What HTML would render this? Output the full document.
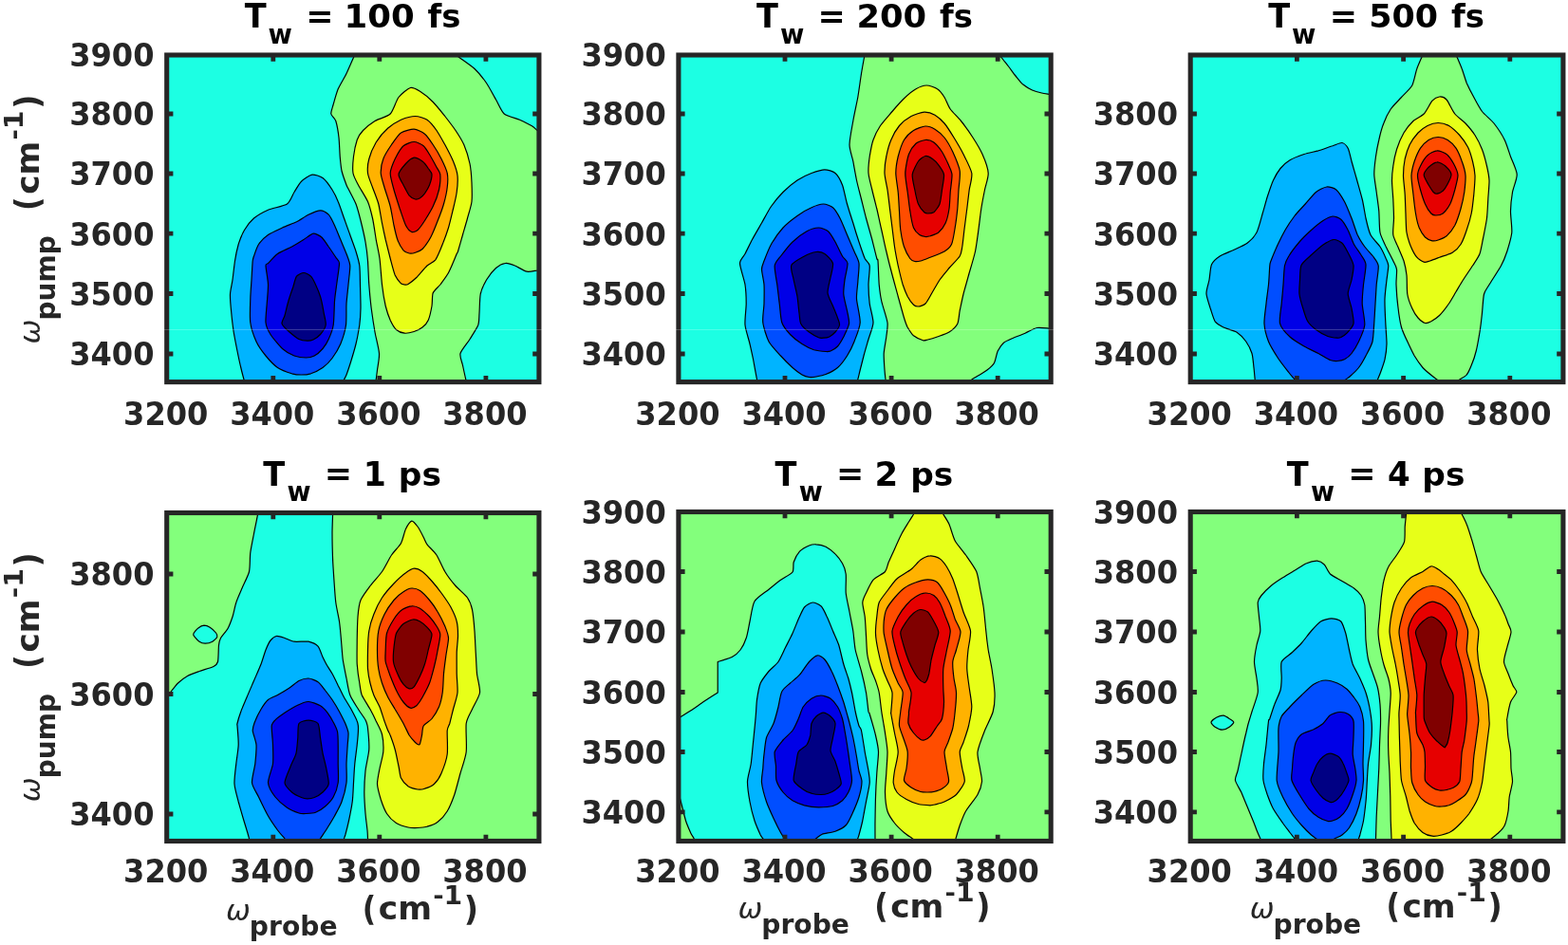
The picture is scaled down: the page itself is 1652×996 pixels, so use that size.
<!DOCTYPE html>
<html lang="en"><head><meta charset="utf-8"><title>2D IR spectra</title>
<style>html,body{margin:0;padding:0;background:#fff}body{width:1652px;height:996px;overflow:hidden}svg{display:block}text{font-family:"DejaVu Sans","Liberation Sans",sans-serif}</style></head><body>
<svg width="1652" height="996" viewBox="0 0 1652 996">
<g>
<rect width="1652" height="996" fill="#fff"/>
<g>
<clipPath id="c1"><rect x="175.7" y="58" width="392.2" height="344.6"/></clipPath>
<rect x="175.7" y="58" width="392.2" height="344.6" fill="#1cffe3"/>
<g clip-path="url(#c1)" stroke="#000" stroke-width="1.2" stroke-linejoin="round">
<path fill="#83ff7c" d="M395.5 406C395.6 405.2 396 401.9 396.2 400C396.5 398.1 397.1 393.3 397.5 390C397.9 386.7 399.8 377.3 399.5 372.5C399.2 367.7 396 355.7 395 350C394 344.3 392 331 391.2 325C390.5 319 389.2 306 388.8 300C388.3 294 387.9 280.4 387.5 275C387.1 269.6 385.9 260.1 385 255C384.1 249.9 381.2 237.3 380 232.5C378.8 227.7 376.5 218.9 375 215C373.5 211.1 368.7 202.4 367.5 200C366.3 197.6 365.9 197.4 365 195C364.1 192.6 360.8 183.6 360 180C359.2 176.4 358.6 169.2 358.2 165C357.9 160.8 357.5 149.5 357 145C356.5 140.5 354.7 130.5 353.8 127.5C352.8 124.5 349.1 122.1 348.8 120C348.4 117.9 350.4 113.2 351.2 110C352.1 106.8 354.6 97.7 356.2 93.8C357.9 89.8 363.1 81.5 365 77.5C366.9 73.5 371.3 63.2 372.5 60.5C373.7 57.8 374.6 55.7 374.9 55L372 30L484 30L478.9 56.9C479.5 57.4 481.2 58.6 483.8 60.5C486.3 62.4 496.6 69.3 500 72.5C503.4 75.7 509.8 83.6 512.5 87.5C515.2 91.4 520.2 101.1 522.5 105C524.8 108.9 528.2 117.5 531.2 120C534.2 122.5 544 124.8 547.5 126.2C551 127.8 557.8 131.2 560 132.5C562.2 133.8 564.9 136.5 566.2 137.5C567.6 138.5 570.4 140.8 570.9 141.2L600 140L600 430L396 430Z"/>
<path fill="#1cffe3" d="M572.2 284.3C571.5 284.4 568.3 284.8 566.2 285C564.2 285.2 557.9 286.9 555 286.2C552.1 285.6 545.2 281.1 542.5 280C539.8 278.9 534.9 277.2 532.5 277.5C530.1 277.8 524.9 280.4 522.5 282.5C520.1 284.6 514.5 291.7 512.5 295C510.6 298.3 507.1 305.8 506.2 310C505.4 314.2 505.3 326.1 505 330C504.7 333.9 504.9 339.2 503.8 342.5C502.6 345.8 497.2 353.9 495 357.5C492.8 361.1 485.9 369.2 485 372.5C484.1 375.8 486.8 381.7 487.5 385C488.2 388.3 490.2 397.5 490.8 400C491.3 402.5 491.9 405.2 492 405.9L490 430L600 430L600 285Z"/>
<path fill="#e7ff18" d="M432.5 92.5C429.8 93.2 422.6 99.2 420 102.5C417.4 105.8 414.2 117 411.2 120C408.2 123 398.4 125.4 395 127.5C391.6 129.6 384.8 135.1 382.5 137.5C380.2 139.9 377.4 144.2 376.2 147.5C375.1 150.8 373 160.8 372.5 165C372 169.2 371.4 178.9 372 182.5C372.6 186.1 375.6 191.4 377.5 195C379.4 198.6 385.7 208.3 387.5 212.5C389.3 216.7 391.4 225.2 392.5 230C393.6 234.8 395.4 247.4 396.2 252.5C397.1 257.6 399.2 266.8 400 272.5C400.8 278.2 401.8 294 402.5 300C403.2 306 405.2 318 406.2 322.5C407.3 327 409.9 334.5 411.2 337.5C412.6 340.5 415.7 345.9 417.5 347.5C419.3 349.1 424 351 426.2 351.2C428.5 351.5 434 350.2 436.2 349.5C438.5 348.8 443.2 346.4 445 345C446.8 343.6 450.1 340.2 451.2 337.5C452.4 334.8 454.4 325.9 455 322.5C455.6 319.1 455.2 311.4 456.2 308.8C457.3 306.1 461.8 302.6 463.8 300C465.7 297.4 470.4 291.4 472.5 287.5C474.6 283.6 480.1 270.2 481.2 267.5C482.4 264.8 481.8 267.4 482.5 265C483.2 262.6 486.3 251.7 487.5 247.5C488.7 243.3 491.4 234.2 492.5 230C493.6 225.8 496.5 217 497 212.5C497.5 208 497.2 197.3 497 192.5C496.8 187.7 496 177.3 495 172.5C494 167.7 490.6 156.7 488.8 152.5C486.9 148.3 482.4 141.1 480 137.5C477.6 133.9 471.6 126.1 468.8 122.5C465.9 118.9 459.4 110.7 456.2 107.5C453.1 104.3 445.4 98 442.5 96.2C439.6 94.5 435.2 91.8 432.5 92.5Z"/>
<path fill="#ffb200" d="M437.5 122.5C434.2 122.5 425.9 124.8 422.5 126.2C419.1 127.8 411.9 132.2 408.8 135C405.6 137.8 398.6 146.1 396.2 150C393.9 153.9 389.8 163.6 388.8 167.5C387.7 171.4 387.1 178.9 387.5 182.5C387.9 186.1 391.1 193.6 392.5 197.5C393.9 201.4 397.6 210.5 398.8 215C399.9 219.5 401.6 230.5 402.5 235C403.4 239.5 405.2 248 406.2 252.5C407.3 257 410.1 268 411.2 272.5C412.4 277 414.9 286.9 416.2 290C417.6 293.1 421.3 297.6 422.5 298.8C423.7 299.9 425.4 299.9 426.2 300C427.1 300.1 428.5 300.4 430 299.5C431.5 298.6 436.4 294.8 438.8 292.5C441.1 290.2 447.6 282.2 450 280C452.4 277.8 456.8 276.4 458.8 273.8C460.7 271.1 464.6 261.6 466.2 257.5C467.9 253.4 471.1 244.5 472.5 240C473.9 235.5 476.4 224.5 477.5 220C478.6 215.5 480.7 206.7 481.2 202.5C481.8 198.3 482.4 188.9 482 185C481.6 181.1 479.1 173.9 477.5 170C475.9 166.1 470.9 156.4 468.8 152.5C466.6 148.6 462.2 140.7 460 137.5C457.8 134.3 452.7 128.1 450 126.2C447.3 124.5 440.8 122.5 437.5 122.5Z"/>
<path fill="#ff4d00" d="M436.2 136.2C433.2 136.1 425.4 138.1 422.5 140C419.6 141.9 414.8 149.2 412.5 152.5C410.2 155.8 405.1 163.9 403.8 167.5C402.4 171.1 401.1 178.9 401.2 182.5C401.4 186.1 403.8 193.3 405 197.5C406.2 201.7 410.1 212.7 411.2 217.5C412.4 222.3 414.1 233.3 415 237.5C415.9 241.7 417.6 249.3 418.8 252.5C419.9 255.7 423.5 262 425 263.8C426.5 265.5 429.8 266.7 431.2 267C432.8 267.3 435.9 266.8 437.5 266.2C439.1 265.7 443.1 264.4 445 262.5C446.9 260.6 451.8 253.6 453.8 250C455.7 246.4 459.6 236.7 461.2 232.5C462.9 228.3 466.3 219.2 467.5 215C468.7 210.8 470.8 201.4 471.2 197.5C471.7 193.6 472 186.1 471.2 182.5C470.5 178.9 466.8 171.1 465 167.5C463.2 163.9 458.4 155.7 456.2 152.5C454.1 149.3 449.9 143.2 447.5 141.2C445.1 139.3 439.2 136.4 436.2 136.2Z"/>
<path fill="#e60000" d="M436.2 149.5C433.7 149.5 427.4 151.6 425 153.8C422.6 155.9 417.9 164.1 416.2 167.5C414.6 170.9 411.4 178.6 411.2 182.5C411.1 186.4 413.8 195.5 415 200C416.2 204.5 419.8 215.5 421.2 220C422.8 224.5 426 234.6 427.5 237.5C429 240.4 432.2 243.9 433.8 244.5C435.2 245.1 438.4 243.9 440 242.5C441.6 241.1 445.6 235.5 447.5 232.5C449.4 229.5 454.4 221.4 456.2 217.5C458.1 213.6 461.6 204.1 462.5 200C463.4 195.9 464.1 186.6 463.8 183.8C463.4 180.9 461.2 178.5 460 176.2C458.8 174 455.4 167.7 453.8 165C452.1 162.3 448.4 155.6 446.2 153.8C444.1 151.9 438.8 149.5 436.2 149.5Z"/>
<path fill="#800000" d="M436.2 166.2C434.1 166.6 429.4 170.4 427.5 172.5C425.6 174.6 420.3 181.1 420 183.8C419.7 186.4 423.6 192.3 425 195C426.4 197.7 429.8 204.4 431.2 206.2C432.8 208.1 436.1 209.7 437.5 210C438.9 210.3 441.3 209.5 442.5 208.8C443.7 208 446.3 205.4 447.5 203.8C448.7 202.1 451.6 197.4 452.5 195C453.4 192.6 455.1 185.8 455 183.8C454.9 181.7 452.4 179.2 451.2 177.5C450.1 175.8 446.8 171.3 445 170C443.2 168.7 438.4 165.9 436.2 166.2Z"/>
<path fill="#00b4ff" d="M359.8 405.4C360.1 404.7 361.9 401.2 362.5 400C363.1 398.8 364.1 397.4 365 395C365.9 392.6 368.8 383.9 370 380C371.2 376.1 373.9 367 375 362.5C376.1 358 378.1 347 378.8 342.5C379.4 338 379.9 330.1 380 325C380.1 319.9 379.6 305.4 379.5 300C379.4 294.6 379.3 284.2 378.8 280C378.2 275.8 376.2 268.9 375 265C373.8 261.1 370.2 251.7 368.8 247.5C367.2 243.3 364 234.2 362.5 230C361 225.8 357.8 216.1 356.2 212.5C354.8 208.9 351.9 203 350 200C348.1 197 342.6 189.4 340 187.5C337.4 185.6 331.4 183.8 328.8 184.2C326.1 184.7 319.8 189.1 317.5 191.2C315.2 193.4 311.8 199.7 310 202.5C308.2 205.3 305.8 212.8 302.5 215C299.2 217.2 286.7 219.4 282.5 221.2C278.3 223.1 270.5 227.4 267.5 230C264.5 232.6 259.4 239.2 257.5 242.5C255.6 245.8 252.4 253.6 251.2 257.5C250.1 261.4 248.2 270.5 247.5 275C246.8 279.5 245.6 290.8 245 295C244.4 299.2 242.7 305.8 242.5 310C242.3 314.2 243.3 325.2 243.8 330C244.2 334.8 245.5 345.2 246.2 350C247 354.8 249.1 365.5 250 370C250.9 374.5 252.9 383.9 253.8 387.5C254.6 391.1 256.4 397.8 257 400C257.6 402.2 258.3 405.1 258.5 405.8L257 430L362 430Z"/>
<path fill="#004eff" d="M337.5 221.8C334.9 221.8 328 224.8 325 226.2C322 227.7 315.8 232.1 312.5 233.8C309.2 235.4 301.1 238.3 297.5 240C293.9 241.7 285.5 245.4 282.5 247.5C279.5 249.6 274.3 254.8 272.5 257.5C270.7 260.2 268.2 267.9 267.5 270C266.8 272.1 266.6 272 266.2 275C265.9 278 265.3 290.2 265 295C264.7 299.8 263.9 309.6 263.8 315C263.6 320.4 263 334.6 263.8 340C264.5 345.4 268.1 355.8 270 360C271.9 364.2 277.3 371.7 280 375C282.7 378.3 289.2 385.2 292.5 387.5C295.8 389.8 304.5 392.9 307.5 393.8C310.5 394.6 315.1 395 317.5 395C319.9 395 324.8 394.6 327.5 393.8C330.2 392.9 337.3 389.4 340 387.5C342.7 385.6 347.8 380.5 350 377.5C352.2 374.5 357 366.7 358.8 362.5C360.5 358.3 363.8 347.6 364.5 342.5C365.2 337.4 364.7 325.1 365 320C365.3 314.9 366.6 304.8 367 300C367.4 295.2 369 283.9 368.8 280C368.5 276.1 366.2 270.8 365 267.5C363.8 264.2 360.2 256.1 358.8 252.5C357.2 248.9 354 240.7 352.5 237.5C351 234.3 348.1 228.1 346.2 226.2C344.4 224.4 340.1 221.8 337.5 221.8Z"/>
<path fill="#0000e7" d="M330 246.2C327.8 246.6 322.7 250.8 320 252.5C317.3 254.2 310.8 258.2 307.5 260C304.2 261.8 295.5 265.4 292.5 267.5C289.5 269.6 284 276 282.5 277.5C281 279 280 277.3 280 280C280 282.7 282.4 295.2 282.5 300C282.6 304.8 281.6 315.2 281.2 320C280.9 324.8 279.6 336.1 280 340C280.4 343.9 282.9 349.2 285 352.5C287.1 355.8 294.5 364.8 297.5 367.5C300.5 370.2 307 373.9 310 375C313 376.1 319.9 377 322.5 377C325.1 377 329.1 376.1 331.2 375C333.4 373.9 338.2 369.6 340 367.5C341.8 365.4 344.9 360.5 346.2 357.5C347.6 354.5 350.5 347.3 351.2 342.5C352 337.7 352.1 322.9 352.5 317.5C352.9 312.1 354.4 302.3 355 297.5C355.6 292.7 357.6 280.6 357.5 277.5C357.4 274.4 355.1 273.4 353.8 271.2C352.4 269.1 348.1 262.6 346.2 260C344.4 257.4 340.7 251.7 338.8 250C336.8 248.3 332.2 245.9 330 246.2Z"/>
<path fill="#000084" d="M320 287.5C318.2 287.5 313.9 289.4 312.5 291.2C311.1 293.1 309.8 299.4 308.8 302.5C307.7 305.6 304.8 313.9 303.8 317.5C302.7 321.1 300.8 329.6 300 332.5C299.2 335.4 296.4 339.1 297 341.2C297.6 343.4 302.8 348.1 305 350C307.2 351.9 312.8 356.4 315 357.5C317.2 358.6 321.9 359.2 323.8 359.2C325.6 359.3 328.4 358.8 330 358C331.6 357.2 335.9 354.4 337.5 352.5C339.1 350.6 342.8 345.2 343.2 342.5C343.7 339.8 341.9 333.6 341.2 330C340.6 326.4 338.6 316.1 337.5 312.5C336.4 308.9 333.7 302.6 332.5 300C331.3 297.4 329 292.8 327.5 291.2C326 289.8 321.8 287.5 320 287.5Z"/>
</g>
<path d="M287.8 58v6.7M287.8 402.6v-6.7M399.8 58v6.7M399.8 402.6v-6.7M511.9 58v6.7M511.9 402.6v-6.7M175.7 120h6.7M567.9 120h-6.7M175.7 183h6.7M567.9 183h-6.7M175.7 246.2h6.7M567.9 246.2h-6.7M175.7 309.5h6.7M567.9 309.5h-6.7M175.7 373h6.7M567.9 373h-6.7" stroke="#262626" stroke-width="4.8" fill="none"/>
<rect x="175.7" y="58" width="392.2" height="344.6" fill="none" stroke="#262626" stroke-width="5.1"/>
</g>
<text transform="translate(130.095 447.536) scale(1 1.026)" font-size="32.076" font-weight="bold" fill="#262626">3200</text>
<text transform="translate(242.155 447.536) scale(1 1.026)" font-size="32.076" font-weight="bold" fill="#262626">3400</text>
<text transform="translate(354.205 447.536) scale(1 1.026)" font-size="32.076" font-weight="bold" fill="#262626">3600</text>
<text transform="translate(466.265 447.536) scale(1 1.026)" font-size="32.076" font-weight="bold" fill="#262626">3800</text>
<text transform="translate(73.245 69.986) scale(1 1.026)" font-size="32.076" font-weight="bold" fill="#262626">3900</text>
<text transform="translate(73.245 132.486) scale(1 1.026)" font-size="32.076" font-weight="bold" fill="#262626">3800</text>
<text transform="translate(73.245 195.486) scale(1 1.026)" font-size="32.076" font-weight="bold" fill="#262626">3700</text>
<text transform="translate(73.245 258.736) scale(1 1.026)" font-size="32.076" font-weight="bold" fill="#262626">3600</text>
<text transform="translate(73.245 321.986) scale(1 1.026)" font-size="32.076" font-weight="bold" fill="#262626">3500</text>
<text transform="translate(73.245 385.486) scale(1 1.026)" font-size="32.076" font-weight="bold" fill="#262626">3400</text>
<text transform="translate(257.75 29.05) scale(1 1.037)" font-size="33.6" font-weight="bold" fill="#000">T</text>
<text transform="translate(282.592 45.75) scale(1 1.019)" font-size="27.462" font-weight="bold" fill="#000">w</text>
<text transform="translate(322.272 28.795) scale(1 0.965)" font-size="34.966" font-weight="bold" fill="#000">=</text>
<text transform="translate(362.462 28.819) scale(1 0.955)" font-size="35.543" font-weight="bold" fill="#000">100</text>
<text transform="translate(450.62 28.812) scale(1 1.015)" font-size="33.913" font-weight="bold" fill="#000">fs</text>
<g transform="translate(41 360.8) rotate(-90)"><text transform="translate(-1.626 0.886) scale(1 0.961)" font-size="30.907" font-weight="normal" font-style="italic" fill="#262626">ω</text>
<text transform="translate(23.259 16.73) scale(1 0.981)" font-size="28.04" font-weight="bold" fill="#262626">pump</text>
<text transform="translate(138.875 0.4) scale(1 1.111)" font-size="31.68" font-weight="bold" fill="#262626">(</text>
<text transform="translate(155.976 -0.388) scale(1 1.001)" font-size="34.373" font-weight="bold" fill="#262626">cm</text>
<text transform="translate(213.364 -17.98) scale(1 0.91)" font-size="27.429" font-weight="bold" fill="#262626">-</text>
<text transform="translate(224.662 -16.65) scale(1 0.969)" font-size="28.235" font-weight="bold" fill="#262626">1</text>
<text transform="translate(245.945 0.4) scale(1 1.056)" font-size="33.347" font-weight="bold" fill="#262626">)</text></g>
<g>
<clipPath id="c2"><rect x="714.9" y="58" width="392.3" height="344.6"/></clipPath>
<rect x="714.9" y="58" width="392.3" height="344.6" fill="#1cffe3"/>
<g clip-path="url(#c2)" stroke="#000" stroke-width="1.2" stroke-linejoin="round">
<path fill="#83ff7c" d="M933.6 406C933.5 405.3 933.2 401.9 933 400C932.8 398.1 932.2 393.3 932 390C931.8 386.7 931 376.7 931.2 372.5C931.5 368.3 933.3 358.9 933.8 355C934.2 351.1 935.6 344.5 935 340C934.4 335.5 929.8 322.3 928.8 317.5C927.7 312.7 926.7 305.1 926.2 300C925.8 294.9 925.3 278.3 925 275C924.7 271.7 924.5 275.2 923.8 272.5C923 269.8 920.1 257.6 918.8 252.5C917.4 247.4 913.9 235.1 912.5 230C911.1 224.9 908.7 214.8 907.5 210C906.3 205.2 903.5 194.8 902.5 190C901.5 185.2 899.6 174.5 898.8 170C897.9 165.5 895 157.6 895 152.5C895 147.4 897.7 133.5 898.8 127.5C899.8 121.5 902.7 108.5 903.8 102.5C904.8 96.5 906.7 82.5 907.5 77.5C908.3 72.5 910 63.2 910.5 60.5C911 57.8 911.4 55.3 911.5 54.6L910 30L1140 30L1140 430L933 430Z"/>
<path fill="#1cffe3" d="M1051.3 55.8C1051.7 56.4 1053.7 58.8 1055 60.5C1056.3 62.2 1060.7 67.7 1062.5 70C1064.3 72.3 1068.2 77.8 1070 80C1071.8 82.2 1075.4 87 1077.5 88.8C1079.6 90.5 1085.1 93.9 1087.5 95C1089.9 96.1 1095.2 97.5 1097.5 98C1099.8 98.5 1104.5 99.2 1106.2 99.5C1108 99.8 1111.5 100.4 1112.2 100.5L1140 100L1140 30L1055 30Z"/>
<path fill="#1cffe3" d="M1112.2 346.6C1111.5 346.5 1108.6 346.4 1106.2 346.2C1103.9 346.1 1095.7 344.9 1092.5 345.5C1089.3 346.1 1083 350 1080 351.2C1077 352.5 1070.2 355.1 1067.5 356.2C1064.8 357.4 1059.5 359.6 1057.5 361.2C1055.5 362.9 1052.5 367.4 1051.2 370C1050 372.6 1048.8 380.1 1047.5 382.5C1046.2 384.9 1042.1 388.4 1040 390C1037.9 391.6 1032 395.1 1030 396.2C1028 397.4 1025.1 399.2 1023.8 400C1022.4 400.8 1019.2 402.7 1018.6 403.1L1024 430L1140 430L1140 346Z"/>
<path fill="#e7ff18" d="M976.2 90C973.5 90 967.9 92.1 965 93.8C962.1 95.4 955.5 100.9 952.5 103.8C949.5 106.6 943 114 940 117.5C937 121 929.9 128.9 927.5 132.5C925.1 136.1 921.4 143.6 920 147.5C918.6 151.4 916.9 160.8 916.2 165C915.6 169.2 914.7 178.3 915 182.5C915.3 186.7 917.7 195.5 918.8 200C919.8 204.5 922.5 214.9 923.8 220C925 225.1 927.5 237.1 928.8 242.5C930 247.9 932.5 259.9 933.8 265C935 270.1 937.2 279.3 938.8 285C940.2 290.7 944.6 306.5 946.2 312.5C947.9 318.5 951.3 331.1 952.5 335C953.7 338.9 955 342.8 956.2 345C957.5 347.2 960.5 352.1 962.5 353.8C964.5 355.4 970.7 358.2 972.5 358.8C974.3 359.3 975.7 358.4 977.5 358C979.3 357.6 984.8 356 987.5 355C990.2 354 997.5 351.6 1000 350C1002.5 348.4 1007.4 343.9 1008.8 341.2C1010.1 338.6 1010.5 331.2 1011.2 327.5C1012 323.8 1013.8 314.8 1015 310C1016.2 305.2 1019.8 292.9 1021.2 287.5C1022.8 282.1 1026.3 270.7 1027.5 265C1028.7 259.3 1030.5 245.4 1031.2 240C1032 234.6 1033 224.8 1033.8 220C1034.5 215.2 1036.6 204.5 1037.5 200C1038.4 195.5 1041.5 187 1041.2 182.5C1041 178 1037 167 1035 162.5C1033 158 1027.7 149.2 1025 145C1022.3 140.8 1015.4 131.1 1012.5 127.5C1009.6 123.9 1003.4 118 1001.2 115C999.1 112 996.6 105 995 102.5C993.4 100 989.8 95.2 987.5 93.8C985.2 92.2 979 90 976.2 90Z"/>
<path fill="#ffb200" d="M973.8 118.2C970.8 118.4 963.1 120.8 960 122.5C956.9 124.2 950 129.5 947.5 132.5C945 135.5 940.4 143.6 938.8 147.5C937.1 151.4 934.6 160.8 933.8 165C932.9 169.2 931.9 178.3 932 182.5C932.1 186.7 934.3 195.5 935 200C935.7 204.5 936.9 215.2 937.5 220C938.1 224.8 939.4 235.2 940 240C940.6 244.8 941.8 255.2 942.5 260C943.2 264.8 945.2 275.2 946.2 280C947.3 284.8 950 296.1 951.2 300C952.5 303.9 954.9 309.9 956.2 312.5C957.6 315.1 961.1 320 962.5 321.2C963.9 322.5 966 323.1 967.5 323C969 322.9 973.4 321.6 975 320C976.6 318.4 979.5 313 981.2 310C983 307 987.8 298.3 990 295C992.2 291.7 997.5 285.5 1000 282.5C1002.5 279.5 1009.6 272.7 1011.2 270C1012.9 267.3 1013.1 263.6 1013.8 260C1014.4 256.4 1015.6 244.8 1016.2 240C1016.9 235.2 1018.1 224.8 1018.8 220C1019.4 215.2 1020.6 204.5 1021.2 200C1021.9 195.5 1024.5 187 1023.8 182.5C1023 178 1017.2 167 1015 162.5C1012.8 158 1007.4 148.9 1005 145C1002.6 141.1 997.4 132.8 995 130C992.6 127.2 987.5 122.7 985 121.2C982.5 119.8 976.8 118.1 973.8 118.2Z"/>
<path fill="#ff4d00" d="M975 133C972.3 133.2 965.2 135.8 962.5 137.5C959.8 139.2 954.5 144.2 952.5 147.5C950.5 150.8 947.3 160.8 946.2 165C945.2 169.2 943.8 178 943.8 182.5C943.8 187 945.8 197.7 946.2 202.5C946.7 207.3 947.2 217.7 947.5 222.5C947.8 227.3 948.1 238 948.8 242.5C949.4 247 951.3 256.4 952.5 260C953.7 263.6 957.4 270.6 958.8 272.5C960.1 274.4 962.4 275.2 963.8 275.5C965.1 275.8 968 275.5 970 275C972 274.5 977 272.4 980 271.2C983 270.1 992.3 266.6 995 265C997.7 263.4 1001.1 260.5 1002.5 257.5C1003.9 254.5 1005.5 244.5 1006.2 240C1007 235.5 1008.3 224.8 1008.8 220C1009.2 215.2 1009.7 204.8 1010 200C1010.3 195.2 1012 184.8 1011.2 180C1010.5 175.2 1005.7 164.2 1003.8 160C1001.8 155.8 997.2 147.8 995 145C992.8 142.2 987.4 137.7 985 136.2C982.6 134.8 977.7 132.8 975 133Z"/>
<path fill="#e60000" d="M975 147.5C972.8 147.7 967.1 149.4 965 151.2C962.9 153.1 958.9 158.8 957.5 162.5C956.1 166.2 953.9 177.7 953.8 182.5C953.6 187.3 955.6 197.7 956.2 202.5C956.9 207.3 958 218 958.8 222.5C959.5 227 961.3 237 962.5 240C963.7 243 967.2 246.4 968.8 247.5C970.2 248.6 973.6 249.3 975 249.5C976.4 249.7 978.4 249.3 980 248.8C981.6 248.2 986.8 246.7 988.8 245C990.7 243.3 994.9 238 996.2 235C997.6 232 999.4 223.9 1000 220C1000.6 216.1 1000.9 206.8 1001.2 202.5C1001.6 198.2 1003.3 187.3 1003 183.8C1002.7 180.2 1000 175.3 998.8 172.5C997.5 169.7 994.3 162.7 992.5 160C990.7 157.3 985.9 151.5 983.8 150C981.6 148.5 977.2 147.3 975 147.5Z"/>
<path fill="#800000" d="M975 164.5C973.2 164.8 969.1 167.7 967.5 170C965.9 172.3 961.7 180.2 961.2 183.8C960.8 187.3 963 196.2 963.8 200C964.5 203.8 966.3 212.2 967.5 215C968.7 217.8 972.5 222.6 973.8 223.8C975 224.9 976.3 225 977.5 225C978.7 225 982.2 224.9 983.8 223.8C985.2 222.6 989 217.8 990 215C991 212.2 992 203.8 992.5 200C993 196.2 995 186.9 994.5 183.8C994 180.6 990.2 175.7 988.8 173.8C987.3 171.8 984.1 168.6 982.5 167.5C980.9 166.4 976.8 164.2 975 164.5Z"/>
<path fill="#00b4ff" d="M902.3 405.8C902.5 405.1 903.3 401.9 903.8 400C904.2 398.1 905.5 393 906.2 390C907 387 909 378.9 910 375C911 371.1 913.8 361.7 915 357.5C916.2 353.3 919.9 344.5 920 340C920.1 335.5 916.9 324.8 916.2 320C915.6 315.2 915 304.8 915 300C915 295.2 916.7 283.3 916.2 280C915.8 276.7 912.6 275.5 911.2 272.5C909.9 269.5 906.5 259.5 905 255C903.5 250.5 900.2 239.8 898.8 235C897.2 230.2 893.9 219.8 892.5 215C891.1 210.2 889 198.9 887.5 195C886 191.1 882.2 184.4 880 182.5C877.8 180.6 871.8 178.8 868.8 178.8C865.8 178.8 858.5 181.2 855 182.5C851.5 183.8 843.6 187.6 840 190C836.4 192.4 828.3 199.2 825 202.5C821.7 205.8 815.2 213.6 812.5 217.5C809.8 221.4 804.9 230.8 802.5 235C800.1 239.2 794.6 248.6 792.5 252.5C790.4 256.4 786.6 264.5 785 267.5C783.4 270.5 779.5 273.6 779.5 277.5C779.5 281.4 784.2 294.9 785 300C785.8 305.1 786.2 314.9 786.2 320C786.2 325.1 784.5 337.4 785 342.5C785.5 347.6 789 358 790 362.5C791 367 792.9 375.5 793.8 380C794.6 384.5 796.9 396.9 797.5 400C798.1 403.1 798.5 405.2 798.6 405.9L797 430L904 430Z"/>
<path fill="#004eff" d="M867.5 215C864.8 215 858.3 217.2 855 218.8C851.7 220.2 843.6 224.9 840 227.5C836.4 230.1 828.3 236.4 825 240C821.7 243.6 814.9 253.3 812.5 257.5C810.1 261.7 806.2 271.9 805 275C803.8 278.1 802.5 280.8 802.5 283.8C802.5 286.8 804.7 295.6 805 300C805.3 304.4 805.1 315.2 805 320C804.9 324.8 803.1 335.2 803.8 340C804.4 344.8 807.8 355.8 810 360C812.2 364.2 819.5 371.7 822.5 375C825.5 378.3 832.3 385.1 835 387.5C837.7 389.9 842.9 393.8 845 395C847.1 396.2 850.7 397.3 852.5 397.5C854.3 397.7 857.9 397.4 860 397C862.1 396.6 867.3 395.6 870 394.5C872.7 393.4 879.8 389.8 882.5 387.5C885.2 385.2 890.4 378.3 892.5 375C894.6 371.7 898.4 364.2 900 360C901.6 355.8 906 345.4 906.2 340C906.5 334.6 902.8 320.1 902.5 315C902.2 309.9 903.5 302 903.8 297.5C904 293 905.5 281.4 905 277.5C904.5 273.6 901.5 268.6 900 265C898.5 261.4 894.3 251.7 892.5 247.5C890.7 243.3 886.8 233.4 885 230C883.2 226.6 879.6 220.6 877.5 218.8C875.4 216.9 870.2 215 867.5 215Z"/>
<path fill="#0000e7" d="M862.5 240C859.8 240 853.3 241.9 850 243.8C846.7 245.6 838.3 251.8 835 255C831.7 258.1 824.8 267 822.5 270C820.2 273 816.7 276.4 816.2 280C815.8 283.6 818.1 295.2 818.8 300C819.4 304.8 820.6 315.2 821.2 320C821.9 324.8 822.4 336.1 823.8 340C825.1 343.9 830 349.8 832.5 352.5C835 355.2 842 360.6 845 362.5C848 364.4 854.5 367.8 857.5 368.8C860.5 369.7 867.9 370.4 870 370.5C872.1 370.6 873.5 370.7 875 370C876.5 369.3 880.9 366.8 882.5 365C884.1 363.2 887.3 357.9 888.8 355C890.2 352.1 894 344.6 894.5 341.2C895 337.9 893.2 331.2 892.5 327.5C891.8 323.8 889 313.9 888.8 310C888.5 306.1 889.5 298.9 890 295C890.5 291.1 893.3 280.5 893 277.5C892.7 274.5 889.1 272.7 887.5 270C885.9 267.3 881.8 258.1 880 255C878.2 251.8 874.6 245.6 872.5 243.8C870.4 241.9 865.2 240 862.5 240Z"/>
<path fill="#000084" d="M860 265.5C857.5 265.8 850.6 268.3 847.5 270C844.4 271.7 835.1 276.5 833.8 279.5C832.4 282.5 835.5 291 836.2 295C837 299 839.3 308.3 840 312.5C840.7 316.7 841.5 326.6 842 330C842.5 333.4 842.5 338.9 843.8 341.2C845 343.6 850.2 348.3 852.5 350C854.8 351.7 860.7 355 862.5 355.8C864.3 356.5 866.1 356.3 867.5 356.2C868.9 356.2 872.2 355.8 873.8 355C875.2 354.2 878.7 351.5 880 350C881.3 348.5 884.2 344.3 884.5 342.5C884.8 340.7 883.3 337.4 882.5 335C881.7 332.6 878.8 325.6 877.5 322.5C876.2 319.4 872.3 312.4 872 308.8C871.7 305.1 874.3 296.2 875 292.5C875.7 288.8 878.2 280.5 877.5 277.5C876.8 274.5 870.9 268.9 868.8 267.5C866.6 266.1 862.5 265.2 860 265.5Z"/>
</g>
<path d="M827 58v6.7M827 402.6v-6.7M939.1 58v6.7M939.1 402.6v-6.7M1051.2 58v6.7M1051.2 402.6v-6.7M714.9 120h6.7M1107.2 120h-6.7M714.9 183h6.7M1107.2 183h-6.7M714.9 246.2h6.7M1107.2 246.2h-6.7M714.9 309.5h6.7M1107.2 309.5h-6.7M714.9 373h6.7M1107.2 373h-6.7" stroke="#262626" stroke-width="4.8" fill="none"/>
<rect x="714.9" y="58" width="392.3" height="344.6" fill="none" stroke="#262626" stroke-width="5.1"/>
</g>
<text transform="translate(669.295 447.536) scale(1 1.026)" font-size="32.076" font-weight="bold" fill="#262626">3200</text>
<text transform="translate(781.385 447.536) scale(1 1.026)" font-size="32.076" font-weight="bold" fill="#262626">3400</text>
<text transform="translate(893.465 447.536) scale(1 1.026)" font-size="32.076" font-weight="bold" fill="#262626">3600</text>
<text transform="translate(1005.555 447.536) scale(1 1.026)" font-size="32.076" font-weight="bold" fill="#262626">3800</text>
<text transform="translate(612.445 69.986) scale(1 1.026)" font-size="32.076" font-weight="bold" fill="#262626">3900</text>
<text transform="translate(612.445 132.486) scale(1 1.026)" font-size="32.076" font-weight="bold" fill="#262626">3800</text>
<text transform="translate(612.445 195.486) scale(1 1.026)" font-size="32.076" font-weight="bold" fill="#262626">3700</text>
<text transform="translate(612.445 258.736) scale(1 1.026)" font-size="32.076" font-weight="bold" fill="#262626">3600</text>
<text transform="translate(612.445 321.986) scale(1 1.026)" font-size="32.076" font-weight="bold" fill="#262626">3500</text>
<text transform="translate(612.445 385.486) scale(1 1.026)" font-size="32.076" font-weight="bold" fill="#262626">3400</text>
<text transform="translate(797.05 29.05) scale(1 1.037)" font-size="33.6" font-weight="bold" fill="#000">T</text>
<text transform="translate(821.892 45.75) scale(1 1.019)" font-size="27.462" font-weight="bold" fill="#000">w</text>
<text transform="translate(861.572 28.795) scale(1 0.965)" font-size="34.966" font-weight="bold" fill="#000">=</text>
<text transform="translate(902.389 28.819) scale(1 0.961)" font-size="35.335" font-weight="bold" fill="#000">200</text>
<text transform="translate(989.92 28.812) scale(1 1.015)" font-size="33.913" font-weight="bold" fill="#000">fs</text>
<g>
<clipPath id="c3"><rect x="1254.2" y="58" width="392.7" height="344.6"/></clipPath>
<rect x="1254.2" y="58" width="392.7" height="344.6" fill="#1cffe3"/>
<g clip-path="url(#c3)" stroke="#000" stroke-width="1.2" stroke-linejoin="round">
<path fill="#83ff7c" d="M1518.8 403.6C1518.2 403.2 1515.2 400.9 1514 400C1512.8 399.1 1510.8 397.8 1509 396.2C1507.2 394.8 1501.2 390.1 1499 387.5C1496.8 384.9 1492 378 1490.2 375C1488.5 372 1485.7 366.1 1484 362.5C1482.3 358.9 1477.8 349.8 1476.5 345C1475.2 340.2 1473.4 327.9 1472.8 322.5C1472.1 317.1 1471.2 304.6 1471 300C1470.8 295.4 1471.9 286.8 1471.5 283.8C1471.1 280.8 1469.1 277.9 1467.8 275C1466.4 272.1 1461.9 263.6 1460.2 260C1458.6 256.4 1454.9 249.5 1454 245C1453.1 240.5 1453.2 227.6 1452.8 222.5C1452.3 217.4 1450.8 207.2 1450.2 202.5C1449.7 197.8 1447.8 188.2 1447.8 183.8C1447.7 179.2 1448.9 169.3 1449.5 165C1450.1 160.7 1451.8 151.7 1452.8 147.5C1453.7 143.3 1456.2 133.9 1457.8 130C1459.2 126.1 1463 118.3 1465.2 115C1467.5 111.7 1473.8 105.5 1476.5 102.5C1479.2 99.5 1485.8 93.6 1487.8 90C1489.7 86.4 1491.5 76 1492.8 72.5C1494 69 1496.9 62.6 1497.8 60.5C1498.6 58.4 1499.8 55.6 1500.1 55L1498 30L1535 30L1532.9 55C1533.2 55.6 1534.4 58.4 1535.2 60.5C1536.1 62.6 1539 69.3 1540.2 72.5C1541.5 75.7 1543.8 83.9 1545.2 87.5C1546.8 91.1 1550.8 98.9 1552.8 102.5C1554.7 106.1 1559 114.2 1561.5 117.5C1564 120.8 1571.2 126.4 1574 130C1576.8 133.6 1583.2 143.3 1585.2 147.5C1587.3 151.7 1589.9 160.7 1591.5 165C1593.1 169.3 1598 179.2 1598.2 183.8C1598.5 188.2 1594.3 197.8 1593.5 202.5C1592.7 207.2 1591.6 217.4 1591.5 222.5C1591.4 227.6 1593.2 239.9 1592.8 245C1592.3 250.1 1589.1 260.8 1587.8 265C1586.4 269.2 1583.8 275.8 1581.5 280C1579.2 284.2 1571.2 296.4 1569 300C1566.8 303.6 1564.4 306.4 1563.5 310C1562.6 313.6 1562 325.2 1561.5 330C1561 334.8 1559.8 345.2 1559 350C1558.2 354.8 1556.3 365.8 1555.2 370C1554.2 374.2 1551.5 382 1550.2 385C1549 388 1546.8 393.2 1545.2 395C1543.8 396.8 1539.2 399 1537.8 400C1536.3 401 1533.4 402.9 1532.8 403.3L1538 430L1514 430Z"/>
<path fill="#e7ff18" d="M1516.5 102C1514.7 102.2 1511 104.1 1509 106.2C1507 108.4 1502.7 117.5 1500.2 120C1497.8 122.5 1491.5 125.1 1489 127.5C1486.5 129.9 1481.1 136.4 1479 140C1476.9 143.6 1472.8 153.3 1471.5 157.5C1470.2 161.7 1468.3 171.1 1467.8 175C1467.2 178.9 1466.5 185.8 1466.5 190C1466.5 194.2 1467.5 205.2 1467.8 210C1468 214.8 1468.5 225.5 1468.5 230C1468.5 234.5 1467.2 243.9 1467.8 247.5C1468.3 251.1 1471.4 256.7 1472.8 260C1474.1 263.3 1477.9 271.4 1479 275C1480.1 278.6 1481.5 285.8 1482 290C1482.5 294.2 1482.1 305.8 1482.8 310C1483.4 314.2 1486.4 322 1487.8 325C1489.1 328 1492.3 333.1 1494 335C1495.7 336.9 1499.8 340.1 1501.5 340.5C1503.2 340.9 1506 339.7 1507.8 338.8C1509.5 337.8 1514.2 334.8 1516.5 332.5C1518.8 330.2 1524.4 323 1526.5 320C1528.6 317 1532.2 310.5 1534 307.5C1535.8 304.5 1539.4 298.3 1541.5 295C1543.6 291.7 1549.4 283.3 1551.5 280C1553.6 276.7 1557.7 271.1 1559 267.5C1560.3 263.9 1561.8 254.5 1562.8 250C1563.7 245.5 1565.9 234.8 1566.5 230C1567.1 225.2 1567.5 214.8 1567.8 210C1568 205.2 1569.2 194.2 1569 190C1568.8 185.8 1567.4 178.9 1566.5 175C1565.6 171.1 1563 161.4 1561.5 157.5C1560 153.6 1556.1 145.8 1554 142.5C1551.9 139.2 1546.5 132.7 1544 130C1541.5 127.3 1535.2 123 1532.8 120C1530.3 117 1526 107.2 1524 105C1522 102.8 1518.3 101.8 1516.5 102Z"/>
<path fill="#ffb200" d="M1515.2 129.5C1512.5 129.5 1506.5 131.2 1504 132.5C1501.5 133.8 1496.2 137.6 1494 140C1491.8 142.4 1486.9 149.2 1485.2 152.5C1483.6 155.8 1481.1 163.6 1480.2 167.5C1479.4 171.4 1478.5 180.5 1478.5 185C1478.5 189.5 1480 200.2 1480.2 205C1480.5 209.8 1480.8 220.2 1481 225C1481.2 229.8 1481.3 240.8 1482 245C1482.7 249.2 1485.2 256.9 1486.5 260C1487.8 263.1 1491.1 269.3 1492.8 271.2C1494.4 273.2 1498.6 275.8 1500.2 276.2C1501.9 276.7 1504.5 275.6 1506.5 275C1508.5 274.4 1513.7 272.3 1516.5 271.2C1519.3 270.2 1527.5 267.9 1530.2 266.2C1533 264.6 1537.2 260.4 1539 257.5C1540.8 254.7 1543.9 246.4 1545.2 242.5C1546.6 238.6 1549.3 229.5 1550.2 225C1551.2 220.5 1552.3 209.8 1552.8 205C1553.2 200.2 1554.2 189.2 1554 185C1553.8 180.8 1552.4 173.6 1551.5 170C1550.6 166.4 1548.2 158.3 1546.5 155C1544.8 151.7 1540.2 145.2 1537.8 142.5C1535.3 139.8 1529.2 134.1 1526.5 132.5C1523.8 130.9 1518 129.5 1515.2 129.5Z"/>
<path fill="#ff4d00" d="M1515.2 144.5C1512.8 144.5 1507.5 146.1 1505.2 147.5C1503 148.9 1498.3 153.6 1496.5 156.2C1494.7 158.9 1491.4 166.6 1490.2 170C1489.1 173.4 1487.2 180.8 1487 185C1486.8 189.2 1488.5 200.2 1489 205C1489.5 209.8 1490.8 220.8 1491.5 225C1492.2 229.2 1494 237 1495.2 240C1496.5 243 1499.8 248.3 1501.5 250C1503.2 251.7 1507.3 253.4 1509 253.8C1510.7 254.1 1513.5 253.6 1515.2 253C1517 252.4 1521.9 250.6 1524 248.8C1526.1 246.9 1531 240.9 1532.8 237.5C1534.5 234.1 1537.8 224.2 1539 220C1540.2 215.8 1542.2 206.7 1542.8 202.5C1543.3 198.3 1544.3 188.9 1544 185C1543.7 181.1 1541.5 173.4 1540.2 170C1539 166.6 1535.8 158.9 1534 156.2C1532.2 153.6 1527.5 148.9 1525.2 147.5C1523 146.1 1517.7 144.5 1515.2 144.5Z"/>
<path fill="#e60000" d="M1514 158.8C1511.6 158.9 1506.1 161.8 1504 163.8C1501.9 165.7 1497.8 172.4 1496.5 175C1495.2 177.6 1493.5 182 1493.5 185C1493.5 188 1495.5 196.4 1496.5 200C1497.5 203.6 1500.2 212 1501.5 215C1502.8 218 1506.4 223.6 1507.8 225C1509.1 226.4 1511.2 227 1512.8 227C1514.2 227 1518.5 226.4 1520.2 225C1522 223.6 1526.2 218 1527.8 215C1529.2 212 1531.8 203.7 1532.8 200C1533.7 196.3 1536.2 187.8 1536 184.5C1535.8 181.2 1532.9 175.1 1531.5 172.5C1530.1 169.9 1526.1 164.2 1524 162.5C1521.9 160.8 1516.4 158.6 1514 158.8Z"/>
<path fill="#800000" d="M1514 170.8C1511.9 170.9 1506.9 174.6 1505.2 176.2C1503.6 177.9 1500.2 182.2 1500.2 184.5C1500.2 186.8 1504 192.8 1505.2 195C1506.5 197.2 1509.2 201.4 1510.2 202.5C1511.3 203.6 1512.8 204.4 1514 204.2C1515.2 204.1 1518.9 202.5 1520.2 201.2C1521.6 200 1524.2 195.8 1525.2 193.8C1526.3 191.7 1529.3 186 1529 183.8C1528.7 181.5 1524.5 176.6 1522.8 175C1521 173.4 1516.1 170.6 1514 170.8Z"/>
<path fill="#00b4ff" d="M1449.3 405.6C1449.5 404.9 1450.9 401.6 1451.5 400C1452.1 398.4 1453.6 395.1 1454.5 392.5C1455.4 389.9 1458.2 382.4 1459 378.8C1459.8 375.1 1460.9 367.1 1461 362.5C1461.1 357.9 1460 345.7 1459.8 340C1459.5 334.3 1458.8 320.4 1459 315C1459.2 309.6 1460.5 299.2 1461 295C1461.5 290.8 1462.8 282.7 1462.8 280C1462.7 277.3 1461.3 274.9 1460.2 272.5C1459.2 270.1 1456 263 1454 260C1452 257 1445.8 251.1 1444 247.5C1442.2 243.9 1440 234.5 1439 230C1438 225.5 1436.5 215.1 1435.2 210C1434 204.9 1430.3 192.3 1429 187.5C1427.7 182.7 1425 173.8 1424 170C1423 166.2 1421.5 158.6 1420.2 156.2C1419 153.9 1416 150.8 1414 150.5C1412 150.2 1407 152.8 1404 153.8C1401 154.7 1392.6 157.7 1389 158.8C1385.4 159.8 1377.6 161.3 1374 162.5C1370.4 163.7 1362 166.9 1359 168.8C1356 170.6 1351.1 174.9 1349 177.5C1346.9 180.1 1343.2 186.4 1341.5 190C1339.8 193.6 1336.6 203.3 1335.2 207.5C1333.9 211.7 1331.6 220.5 1330.2 225C1328.9 229.5 1326 241.2 1324 245C1322 248.8 1317 254 1314 256.2C1311 258.5 1302.5 262.1 1299 263.8C1295.5 265.4 1288 268.2 1285.2 270C1282.5 271.8 1277.8 275.8 1276.5 278.8C1275.2 281.8 1274.7 291.3 1274 295C1273.3 298.7 1270.8 305.9 1271 309.5C1271.2 313.1 1274.1 321.5 1275.2 325C1276.4 328.5 1278.6 336.4 1280.2 338.8C1281.9 341.1 1286.3 343.6 1289 345C1291.7 346.4 1299.9 348.2 1302.8 350C1305.6 351.8 1310.8 357.3 1312.8 360C1314.7 362.7 1318 369.2 1319 372.5C1320 375.8 1320.6 384.2 1321 387.5C1321.4 390.8 1322 397.8 1322.2 400C1322.5 402.2 1322.8 405.3 1322.8 406L1322 430L1451 430Z"/>
<path fill="#004eff" d="M1413 403.6C1413.5 403.2 1416.6 400.9 1417.8 400C1418.9 399.1 1421.1 397.8 1422.8 396.2C1424.4 394.8 1429.5 390.1 1431.5 387.5C1433.5 384.9 1437.3 378.3 1439 375C1440.7 371.7 1445 364.2 1446 360C1447 355.8 1447.4 344.8 1447.8 340C1448.1 335.2 1448.7 324.8 1449 320C1449.3 315.2 1449.9 304.8 1450.2 300C1450.6 295.2 1452.7 283.6 1452.2 280C1451.8 276.4 1448.2 272.4 1446.5 270C1444.8 267.6 1439.7 262.7 1437.8 260C1435.8 257.3 1431.9 251.1 1430.2 247.5C1428.6 243.9 1425.7 234.2 1424 230C1422.3 225.8 1418.5 216.1 1416.5 212.5C1414.5 208.9 1410 201.9 1407.8 200C1405.5 198.1 1400.3 196.7 1397.8 197C1395.2 197.3 1389.2 200.3 1386.5 202.5C1383.8 204.7 1378 212 1375.2 215C1372.5 218 1366.5 224.2 1364 227.5C1361.5 230.8 1356.2 238.6 1354 242.5C1351.8 246.4 1347 256.1 1345.2 260C1343.5 263.9 1339.9 272.6 1339 275C1338.1 277.4 1338 277 1337.8 280C1337.5 283 1337 295.2 1336.5 300C1336 304.8 1334.5 315.1 1334 320C1333.5 324.9 1331.7 336.4 1332 341.2C1332.3 346.1 1334.8 355.6 1336.5 360C1338.2 364.4 1344 373.6 1346.5 377.5C1349 381.4 1355.7 389.8 1357.8 392.5C1359.8 395.2 1362.8 398.5 1364 400C1365.2 401.5 1367.4 404.1 1367.8 404.6L1364 430L1418 430Z"/>
<path fill="#0000e7" d="M1404 228C1401.8 228.2 1396.7 230.8 1394 232.5C1391.3 234.2 1384.5 239.8 1381.5 242.5C1378.5 245.2 1371.8 251.7 1369 255C1366.2 258.3 1359.6 267 1357.8 270C1355.9 273 1354.2 276.4 1353.5 280C1352.8 283.6 1352.4 295.2 1352 300C1351.6 304.8 1350.7 315.1 1350.2 320C1349.8 324.9 1347.5 336.6 1348.5 340.8C1349.5 344.9 1355.9 352.1 1359 355C1362.1 357.9 1370.4 362.9 1374 365C1377.6 367.1 1385.7 370.8 1389 372.5C1392.3 374.2 1399.1 378.5 1401.5 379.5C1403.9 380.5 1407.2 380.6 1409 380.5C1410.8 380.4 1414.7 379.7 1416.5 378.8C1418.3 377.8 1422.2 374.8 1424 372.5C1425.8 370.2 1429.8 363.6 1431.5 360C1433.2 356.4 1437.3 347.3 1437.8 342.5C1438.2 337.7 1435.4 325.1 1435.2 320C1435.1 314.9 1436 304.9 1436.5 300C1437 295.1 1439.3 282.5 1439 278.8C1438.7 275 1435.5 271.3 1434 268.8C1432.5 266.2 1428.2 260.6 1426.5 257.5C1424.8 254.3 1421.9 245.7 1420.2 242.5C1418.6 239.3 1414.7 233 1412.8 231.2C1410.8 229.5 1406.2 227.8 1404 228Z"/>
<path fill="#000084" d="M1405.2 252.5C1402.8 252.7 1396.8 256.1 1394 258C1391.2 259.9 1384.3 266.2 1381.5 268.8C1378.7 271.3 1372.4 276.4 1371 279.5C1369.6 282.6 1369.7 291.3 1369.5 295C1369.3 298.7 1368.6 306.4 1369 310C1369.4 313.6 1371.7 321.6 1372.8 325C1373.8 328.4 1376.1 336.1 1377.8 338.8C1379.4 341.4 1384 345.6 1386.5 347.5C1389 349.4 1396.3 353.4 1399 354.5C1401.7 355.6 1407.3 356.1 1409 356.2C1410.7 356.4 1411.5 356.1 1412.8 355.5C1414 354.9 1417.4 353 1419 351.2C1420.6 349.5 1425.4 344.4 1426 341.2C1426.6 338.1 1424.7 328.8 1424 325C1423.3 321.2 1420.2 313.1 1420.2 309.5C1420.2 305.9 1423.3 298.6 1424 295C1424.7 291.4 1426.5 282.9 1426 279.5C1425.5 276.1 1421.7 269 1420.2 266.2C1418.8 263.5 1415.8 257.9 1414 256.2C1412.2 254.6 1407.7 252.3 1405.2 252.5Z"/>
</g>
<path d="M1366.4 58v6.7M1366.4 402.6v-6.7M1478.6 58v6.7M1478.6 402.6v-6.7M1590.8 58v6.7M1590.8 402.6v-6.7M1254.2 120h6.7M1646.9 120h-6.7M1254.2 183h6.7M1646.9 183h-6.7M1254.2 246.2h6.7M1646.9 246.2h-6.7M1254.2 309.5h6.7M1646.9 309.5h-6.7M1254.2 373h6.7M1646.9 373h-6.7" stroke="#262626" stroke-width="4.8" fill="none"/>
<rect x="1254.2" y="58" width="392.7" height="344.6" fill="none" stroke="#262626" stroke-width="5.1"/>
</g>
<text transform="translate(1208.595 447.536) scale(1 1.026)" font-size="32.076" font-weight="bold" fill="#262626">3200</text>
<text transform="translate(1320.795 447.536) scale(1 1.026)" font-size="32.076" font-weight="bold" fill="#262626">3400</text>
<text transform="translate(1432.995 447.536) scale(1 1.026)" font-size="32.076" font-weight="bold" fill="#262626">3600</text>
<text transform="translate(1545.195 447.536) scale(1 1.026)" font-size="32.076" font-weight="bold" fill="#262626">3800</text>
<text transform="translate(1151.745 132.486) scale(1 1.026)" font-size="32.076" font-weight="bold" fill="#262626">3800</text>
<text transform="translate(1151.745 195.486) scale(1 1.026)" font-size="32.076" font-weight="bold" fill="#262626">3700</text>
<text transform="translate(1151.745 258.736) scale(1 1.026)" font-size="32.076" font-weight="bold" fill="#262626">3600</text>
<text transform="translate(1151.745 321.986) scale(1 1.026)" font-size="32.076" font-weight="bold" fill="#262626">3500</text>
<text transform="translate(1151.745 385.486) scale(1 1.026)" font-size="32.076" font-weight="bold" fill="#262626">3400</text>
<text transform="translate(1336.2 29.05) scale(1 1.037)" font-size="33.6" font-weight="bold" fill="#000">T</text>
<text transform="translate(1361.042 45.75) scale(1 1.019)" font-size="27.462" font-weight="bold" fill="#000">w</text>
<text transform="translate(1400.722 28.795) scale(1 0.965)" font-size="34.966" font-weight="bold" fill="#000">=</text>
<text transform="translate(1442.268 28.819) scale(1 0.973)" font-size="34.906" font-weight="bold" fill="#000">500</text>
<text transform="translate(1529.07 28.812) scale(1 1.015)" font-size="33.913" font-weight="bold" fill="#000">fs</text>
<g>
<clipPath id="c4"><rect x="175.7" y="540.5" width="392.2" height="346"/></clipPath>
<rect x="175.7" y="540.5" width="392.2" height="346" fill="#83ff7c"/>
<g clip-path="url(#c4)" stroke="#000" stroke-width="1.2" stroke-linejoin="round">
<path fill="#1cffe3" d="M174.1 735.8C174.5 735.2 177.1 732.2 178 731.2C178.9 730.3 180.1 728.9 181.2 727.5C182.4 726.1 185.6 721.8 187.5 720C189.4 718.2 194.8 714 197.5 712.5C200.2 711 206.7 708.7 210 707.5C213.3 706.3 222.7 703.7 225 702.5C227.3 701.3 228.8 700.2 229.5 697.5C230.2 694.8 230.1 683 230.5 680C230.9 677 231.4 674.6 232.5 672.5C233.6 670.4 238.5 665.2 240 662.5C241.5 659.8 243.9 653.3 245 650C246.1 646.7 247.6 638.6 248.8 635C249.9 631.4 253.3 623.9 255 620C256.6 616.1 261.4 607 262.5 602.5C263.6 598 263.1 587.3 263.8 582.5C264.4 577.7 266.6 567.1 267.5 562.5C268.4 557.9 270.7 546.7 271.2 543.8C271.8 540.8 272.3 538.6 272.4 537.9L271 520L350 520L350.7 537.8C350.6 538.5 350.6 540.8 350.5 543.8C350.4 546.7 350 557.2 350 562.5C350 567.8 350.3 581.5 350.5 587.5C350.7 593.5 351.6 606.8 352 612.5C352.4 618.2 353.1 629.9 353.8 635C354.4 640.1 356.8 650.2 357.5 655C358.2 659.8 359.1 670.2 359.5 675C359.9 679.8 360.6 690.2 361.2 695C361.9 699.8 364.1 710.5 365 715C365.9 719.5 367.2 728.6 368.8 732.5C370.2 736.4 375.6 744.4 377.5 747.5C379.4 750.6 383.8 756.4 385 758.8C386.2 761.1 387.1 763.8 387.5 767.5C387.9 771.2 389.1 784.6 388.8 790C388.4 795.4 385.6 807.1 385 812.5C384.4 817.9 383.8 829.6 383.8 835C383.8 840.4 384.6 852.7 385 857.5C385.4 862.3 386.7 871.9 387 875C387.3 878.1 387.4 882 387.5 883.8C387.6 885.5 387.8 889 387.8 889.7L387 910L150 910L150 731Z"/>
<path fill="#1cffe3" d="M203.8 668C204.2 666.9 207.4 663 208.8 662C210.1 661 213.5 659.3 215 659.2C216.5 659.2 219.8 660.3 221.2 661.2C222.8 662.2 226.6 665.8 227.5 667C228.4 668.2 229.2 670.1 228.8 671.2C228.3 672.4 225.2 675.4 223.8 676.2C222.2 677.1 217.9 678.2 216.2 678.2C214.6 678.2 211.3 677.1 210 676.2C208.7 675.4 205.8 672.2 205 671.2C204.2 670.3 203.3 669.1 203.8 668Z"/>
<path fill="#e7ff18" d="M433.8 549.2C432.2 549.5 428.9 554.7 427.5 557.5C426.1 560.3 424.3 569.2 422.5 572.5C420.7 575.8 414.9 581.4 412.5 585C410.1 588.6 405.2 598.6 402.5 602.5C399.8 606.4 392.7 613.9 390 617.5C387.3 621.1 381.6 628.6 380 632.5C378.4 636.4 377.4 644.9 377 650C376.6 655.1 376.3 669 376.2 675C376.2 681 375.9 694.6 376.2 700C376.6 705.4 378.1 716.1 378.8 720C379.4 723.9 379.9 729.2 381.2 732.5C382.6 735.8 388.2 744.2 390 747.5C391.8 750.8 394.8 756.8 396.2 760C397.8 763.2 401.6 770.1 402.5 774C403.4 777.9 404.1 788.2 403.8 792.5C403.4 796.8 400.8 806 400 810C399.2 814 397.4 822.4 397.5 826.2C397.6 830.1 400.1 838.8 401.2 842.5C402.4 846.2 405.6 854.5 407.5 857.5C409.4 860.5 414.8 865.8 417.5 867.5C420.2 869.2 427.3 871.4 430 872C432.7 872.6 437.6 872.6 440 872.5C442.4 872.4 447.4 872 450 871.2C452.6 870.5 458.7 868.2 461.2 866.2C463.8 864.3 469.1 858.5 471.2 855C473.4 851.5 477.1 842.3 478.8 837.5C480.4 832.7 483.5 820.4 485 815C486.5 809.6 490.5 798.8 491.2 792.5C492 786.2 490.5 767.9 491.2 762.5C492 757.1 495.8 751.4 497.5 747.5C499.2 743.6 504.9 734.5 505.5 730C506.1 725.5 503 715.1 502.5 710C502 704.9 501.6 692.9 501.2 687.5C500.9 682.1 500.4 670.4 500 665C499.6 659.6 498.4 646.7 497.5 642.5C496.6 638.3 494.6 633 492.5 630C490.4 627 482.9 620.8 480 617.5C477.1 614.2 471.1 606.4 468.8 602.5C466.4 598.6 462.2 588.5 460 585C457.8 581.5 451.6 576 450 573.8C448.4 571.5 447.4 568.5 446.2 566.2C445.1 564 441.5 557 440 555C438.5 553 435.2 549 433.8 549.2Z"/>
<path fill="#ffb200" d="M436.2 599.2C434.1 599.4 430.1 601.9 427.5 603.8C424.9 605.6 418 611.9 415 615C412 618.1 405.1 626.1 402.5 630C399.9 633.9 395.4 643.3 393.8 647.5C392.1 651.7 389.5 660.5 388.8 665C388 669.5 387.6 680.2 387.5 685C387.4 689.8 387.2 700.8 387.5 705C387.8 709.2 389.2 716.7 390 720C390.8 723.3 392.6 729.5 393.8 732.5C394.9 735.5 398.6 741.7 400 745C401.4 748.3 403.9 757 405 760C406.1 763 408 768.2 408.8 770C409.5 771.8 410.4 772.6 411.2 775C412.1 777.4 415.2 786.1 416.2 790C417.3 793.9 419.2 803.9 420 807.5C420.8 811.1 421.3 817.5 422.5 820C423.7 822.5 427.9 827.3 430 828.8C432.1 830.2 437.9 831.7 440 832C442.1 832.3 445.4 831.9 447.5 831.2C449.6 830.6 455.4 828.2 457.5 826.2C459.6 824.3 463.4 818.8 465 815C466.6 811.2 470.5 800.4 471.2 795C472 789.6 470.9 773.9 471.2 770C471.6 766.1 473 765.2 473.8 762.5C474.5 759.8 476.5 751.4 477.5 747.5C478.5 743.6 481.6 734.5 482 730C482.4 725.5 481.3 715.1 481.2 710C481.2 704.9 481.1 692.3 481.2 687.5C481.4 682.7 482.5 673.9 482.5 670C482.5 666.1 482.1 658.6 481.2 655C480.4 651.4 476.9 643.6 475 640C473.1 636.4 467.4 628.3 465 625C462.6 621.7 457.4 615.2 455 612.5C452.6 609.8 447.2 604.1 445 602.5C442.8 600.9 438.4 599.1 436.2 599.2Z"/>
<path fill="#ff4d00" d="M433.8 620C431.6 620.1 427.2 622.2 425 623.8C422.8 625.2 417.4 629.6 415 632.5C412.6 635.4 406.9 643.6 405 647.5C403.1 651.4 399.6 660.5 398.8 665C397.9 669.5 397.5 680.2 397.5 685C397.5 689.8 398.1 700.8 398.8 705C399.4 709.2 401.3 716.4 402.5 720C403.7 723.6 407.1 731.7 408.8 735C410.4 738.3 414.3 744.2 416.2 747.5C418.2 750.8 423.2 759.2 425 762.5C426.8 765.8 429.8 772.6 431.2 775C432.8 777.4 436.3 781.3 437.5 782.5C438.7 783.7 440.6 784.9 441.2 785C441.9 785.1 442.1 785 442.5 783.8C442.9 782.5 444.1 777.2 444.5 775C444.9 772.8 445 767.1 446.2 765C447.5 762.9 453.1 759.9 455 757.5C456.9 755.1 461.1 748.3 462.5 745C463.9 741.7 465.6 734.2 466.2 730C466.9 725.8 467.1 714.8 467.5 710C467.9 705.2 469.4 694.5 470 690C470.6 685.5 472.6 676.1 472.5 672.5C472.4 668.9 470.1 663.3 468.8 660C467.4 656.7 463.2 648.3 461.2 645C459.3 641.7 454.8 635.2 452.5 632.5C450.2 629.8 444.8 624 442.5 622.5C440.2 621 435.9 619.9 433.8 620Z"/>
<path fill="#e60000" d="M433.8 638.8C431.5 638.9 426 640.9 423.8 642.5C421.5 644.1 416.9 649.5 415 652.5C413.1 655.5 408.6 663.6 407.5 667.5C406.4 671.4 406.4 681.4 406.2 685C406.1 688.6 405.6 694.2 406.2 697.5C406.9 700.8 409.9 708.9 411.2 712.5C412.6 716.1 415.9 724.2 417.5 727.5C419.1 730.8 423.2 737.8 425 740C426.8 742.2 430.9 745.8 432.5 746.2C434.1 746.7 437.2 745.1 438.8 743.8C440.2 742.4 443.4 737.9 445 735C446.6 732.1 451 723.9 452.5 720C454 716.1 456.4 706.7 457.5 702.5C458.6 698.3 460.5 689 461.2 685C462 681 463.9 671.8 463.8 668.8C463.6 665.8 461.4 662.2 460 660C458.6 657.8 454.6 652.2 452.5 650C450.4 647.8 444.8 642.6 442.5 641.2C440.2 639.9 436 638.6 433.8 638.8Z"/>
<path fill="#800000" d="M435 653C432.9 653.3 427.1 655.8 425 657.5C422.9 659.2 418.7 664.5 417.5 667.5C416.3 670.5 415.4 678.9 415 682.5C414.6 686.1 414.1 694.2 414.5 697.5C414.9 700.8 417.5 707.1 418.8 710C420 712.9 423.5 719.4 425 721.2C426.5 723.1 429.9 725.5 431.2 725.8C432.6 726 434.9 725.3 436.2 723.8C437.6 722.2 441.1 715.4 442.5 712.5C443.9 709.6 446.4 703.3 447.5 700C448.6 696.7 450.4 688.8 451.2 685C452.1 681.2 455.1 671.6 455 668.8C454.9 665.9 451.5 662.9 450 661.2C448.5 659.6 444.3 656 442.5 655C440.7 654 437.1 652.7 435 653Z"/>
<path fill="#00b4ff" d="M360.6 889.4C360.8 888.8 362.1 884.9 362.5 883.8C362.9 882.6 363.1 882.2 363.8 880C364.4 877.8 366.6 869.2 367.5 865C368.4 860.8 370.6 849.8 371.2 845C371.9 840.2 372.2 829.8 372.5 825C372.8 820.2 373.3 809.8 373.8 805C374.2 800.2 375.8 789.5 376.2 785C376.7 780.5 377.5 770.5 377.5 767.5C377.5 764.5 377.1 762.4 376.2 760C375.4 757.6 371.6 750.5 370 747.5C368.4 744.5 364.1 738 362.5 735C360.9 732 357.8 725.5 356.2 722.5C354.8 719.5 351.5 712.7 350 710C348.5 707.3 344.9 702.1 343.8 700C342.6 697.9 341.1 694.8 340 692.5C338.9 690.2 336.8 683.2 335 681.2C333.2 679.3 328 676.9 325 676.2C322 675.6 313 676.7 310 676.2C307 675.8 302.2 673.2 300 672.5C297.8 671.8 293.1 670.2 291.2 670.5C289.4 670.8 286.4 673.3 285 675C283.6 676.7 281.2 682 280 685C278.8 688 276.5 696.1 275 700C273.5 703.9 269.3 713.3 267.5 717.5C265.7 721.7 261.6 731.1 260 735C258.4 738.9 254.9 746.7 253.8 750C252.6 753.3 250.4 760.7 250 762.5C249.6 764.3 249.8 762.3 250 765C250.2 767.7 251.4 780.2 251.2 785C251.1 789.8 249.3 800 248.8 805C248.2 810 246.7 821.5 247 826.2C247.3 831 250.1 840.6 251.2 845C252.4 849.4 255.2 858.9 256.2 862.5C257.3 866.1 259.2 872.5 260 875C260.8 877.5 262 882 262.5 883.8C263 885.5 264 888.8 264.1 889.5L262 910L362 910Z"/>
<path fill="#004eff" d="M334.2 888.7C334.6 888.1 336.2 885.7 337.5 883.8C338.8 881.8 343.2 875.4 345 872.5C346.8 869.6 350.7 863.3 352.5 860C354.3 856.7 358.5 849.2 360 845C361.5 840.8 364.4 829.8 365 825C365.6 820.2 364.9 809.8 365 805C365.1 800.2 366 788.9 366.2 785C366.5 781.1 367.3 775.2 367 772.5C366.7 769.8 364.9 765.2 363.8 762.5C362.6 759.8 359.1 753 357.5 750C355.9 747 351.8 740.2 350 737.5C348.2 734.8 344.3 729.8 342.5 727.5C340.7 725.2 337.1 720.2 335 718.8C332.9 717.2 327.4 715.1 325 715C322.6 714.9 317.4 716.3 315 717.5C312.6 718.7 307.7 723.2 305 725C302.3 726.8 295.2 731 292.5 732.5C289.8 734 284.6 735.7 282.5 737.5C280.4 739.3 276.6 744.8 275 747.5C273.4 750.2 269.8 757.3 268.8 760C267.7 762.7 266.1 767 266.2 770C266.4 773 269.7 780.8 270 785C270.3 789.2 269.3 800.2 268.8 805C268.2 809.8 265.1 820.8 265.5 825C265.9 829.2 270.5 835.8 272.5 840C274.5 844.2 280.1 855.8 282.5 860C284.9 864.2 290.4 872.1 292.5 875C294.6 877.9 298.6 882.2 300 883.8C301.4 885.3 303.4 887.8 303.9 888.3L300 910L337 910Z"/>
<path fill="#0000e7" d="M325 739.5C322 739.5 315.5 742.3 312.5 743.8C309.5 745.2 302.7 749.5 300 751.2C297.3 753 291.6 757.1 290 758.8C288.4 760.4 286.6 761.9 286.2 765C285.9 768.1 287.4 780.2 287.5 785C287.6 789.8 288.1 800.2 287.5 805C286.9 809.8 282.2 820.8 282.5 825C282.8 829.2 287.6 836.9 290 840C292.4 843.1 299.5 849.2 302.5 851.2C305.5 853.3 312.6 856.2 315 857C317.4 857.8 320.4 857.6 322.5 857.5C324.6 857.4 330.1 857.1 332.5 856.2C334.9 855.4 340.2 852 342.5 850C344.8 848 349.6 843 351.2 840C352.9 837 355.6 829.2 356.2 825C356.9 820.8 356.2 809.8 356.2 805C356.2 800.2 356.3 789 356.2 785C356.2 781 356.1 774.1 355.5 771.2C354.9 768.4 352.5 763.6 351.2 761.2C350 758.9 346.6 753.4 345 751.2C343.4 749.1 339.9 745.2 337.5 743.8C335.1 742.3 328 739.5 325 739.5Z"/>
<path fill="#000084" d="M325 759.2C322.6 759.2 316.4 760.3 315 762.5C313.6 764.7 314.1 773.8 313.8 777.5C313.4 781.2 312.9 790.1 312 793.8C311.1 797.4 307.7 803.8 306.2 807.5C304.8 811.2 299.9 821.7 300 825C300.1 828.3 305.4 833.1 307.5 835C309.6 836.9 315.6 839.7 317.5 840.5C319.4 841.3 322.1 841.8 323.8 841.8C325.4 841.8 329.3 841.3 331.2 840.5C333.2 839.7 338.2 836.7 340 835C341.8 833.3 345.8 829.2 346.2 826.2C346.7 823.2 344.5 813.9 343.8 810C343 806.1 340.8 797.6 340 793.8C339.2 789.9 338.1 781.2 337.5 777.5C336.9 773.8 336.5 764.7 335 762.5C333.5 760.3 327.4 759.2 325 759.2Z"/>
</g>
<path d="M287.8 540.5v6.7M287.8 886.5v-6.7M399.8 540.5v6.7M399.8 886.5v-6.7M511.9 540.5v6.7M511.9 886.5v-6.7M175.7 605h6.7M567.9 605h-6.7M175.7 731.5h6.7M567.9 731.5h-6.7M175.7 858h6.7M567.9 858h-6.7" stroke="#262626" stroke-width="4.8" fill="none"/>
<rect x="175.7" y="540.5" width="392.2" height="346" fill="none" stroke="#262626" stroke-width="5.1"/>
</g>
<text transform="translate(130.095 929.936) scale(1 1.026)" font-size="32.076" font-weight="bold" fill="#262626">3200</text>
<text transform="translate(242.155 929.936) scale(1 1.026)" font-size="32.076" font-weight="bold" fill="#262626">3400</text>
<text transform="translate(354.205 929.936) scale(1 1.026)" font-size="32.076" font-weight="bold" fill="#262626">3600</text>
<text transform="translate(466.265 929.936) scale(1 1.026)" font-size="32.076" font-weight="bold" fill="#262626">3800</text>
<text transform="translate(73.245 617.486) scale(1 1.026)" font-size="32.076" font-weight="bold" fill="#262626">3800</text>
<text transform="translate(73.245 743.986) scale(1 1.026)" font-size="32.076" font-weight="bold" fill="#262626">3600</text>
<text transform="translate(73.245 870.486) scale(1 1.026)" font-size="32.076" font-weight="bold" fill="#262626">3400</text>
<text transform="translate(277.25 511.75) scale(1 1.037)" font-size="33.6" font-weight="bold" fill="#000">T</text>
<text transform="translate(302.403 528.45) scale(1 1.032)" font-size="27.113" font-weight="bold" fill="#000">w</text>
<text transform="translate(341.772 511.495) scale(1 0.965)" font-size="34.966" font-weight="bold" fill="#000">=</text>
<text transform="translate(382.662 512.05) scale(1 1.022)" font-size="34.635" font-weight="bold" fill="#000">1</text>
<text transform="translate(419.862 511.626) scale(1 0.96)" font-size="34.411" font-weight="bold" fill="#000">ps</text>
<text transform="translate(238.074 970.386) scale(1 0.961)" font-size="30.907" font-weight="normal" font-style="italic" fill="#262626">ω</text>
<text transform="translate(262.85 986.406) scale(1 1.014)" font-size="28.164" font-weight="bold" fill="#262626">probe</text>
<text transform="translate(381.675 969.9) scale(1 1.111)" font-size="31.68" font-weight="bold" fill="#262626">(</text>
<text transform="translate(398.776 969.112) scale(1 1.001)" font-size="34.373" font-weight="bold" fill="#262626">cm</text>
<text transform="translate(456.164 951.52) scale(1 0.91)" font-size="27.429" font-weight="bold" fill="#262626">-</text>
<text transform="translate(467.462 952.85) scale(1 0.969)" font-size="28.235" font-weight="bold" fill="#262626">1</text>
<text transform="translate(488.745 969.9) scale(1 1.056)" font-size="33.347" font-weight="bold" fill="#262626">)</text>
<g transform="translate(41 843.5) rotate(-90)"><text transform="translate(-1.626 0.886) scale(1 0.961)" font-size="30.907" font-weight="normal" font-style="italic" fill="#262626">ω</text>
<text transform="translate(23.259 16.73) scale(1 0.981)" font-size="28.04" font-weight="bold" fill="#262626">pump</text>
<text transform="translate(138.875 0.4) scale(1 1.111)" font-size="31.68" font-weight="bold" fill="#262626">(</text>
<text transform="translate(155.976 -0.388) scale(1 1.001)" font-size="34.373" font-weight="bold" fill="#262626">cm</text>
<text transform="translate(213.364 -17.98) scale(1 0.91)" font-size="27.429" font-weight="bold" fill="#262626">-</text>
<text transform="translate(224.662 -16.65) scale(1 0.969)" font-size="28.235" font-weight="bold" fill="#262626">1</text>
<text transform="translate(245.945 0.4) scale(1 1.056)" font-size="33.347" font-weight="bold" fill="#262626">)</text></g>
<g>
<clipPath id="c5"><rect x="714.9" y="539.5" width="392.3" height="347"/></clipPath>
<rect x="714.9" y="539.5" width="392.3" height="347" fill="#83ff7c"/>
<g clip-path="url(#c5)" stroke="#000" stroke-width="1.2" stroke-linejoin="round">
<path fill="#1cffe3" d="M712.9 758.2C713.5 757.8 715.9 756.3 718 755C720.1 753.7 727.1 749.5 730 747.5C732.9 745.5 739.4 740.9 742.5 738.8C745.6 736.6 754.6 731 756.2 730L756.2 697.5C758 696.9 768.4 694 771.2 692.5C774.1 691 778.2 687.4 780 685C781.8 682.6 785 676.1 786.2 672.5C787.5 668.9 789 659.6 790 655C791 650.4 792.6 637.8 795 633.8C797.4 629.7 806.7 624 810 621.2C813.3 618.5 819.5 613.4 822.5 611.2C825.5 609.1 833.4 605.2 835 603C836.6 600.8 835.4 595.1 836.2 592.5C837.1 589.9 840.5 583.4 842.5 581.2C844.5 579.1 850.4 575.9 852.5 575C854.6 574.1 857.9 573.6 860 573.8C862.1 573.9 867.6 575 870 576.2C872.4 577.5 877.9 581.6 880 583.8C882.1 585.9 886.1 591.2 887.5 593.8C888.9 596.3 890.8 601.2 891.2 605C891.7 608.8 890.8 620.2 891.2 625C891.7 629.8 894.1 640.2 895 645C895.9 649.8 898 660.2 898.8 665C899.5 669.8 900.2 679.9 901.2 685C902.3 690.1 906.1 702.1 907.5 707.5C908.9 712.9 911.6 724.9 912.5 730C913.4 735.1 914.5 747.3 915 750C915.5 752.7 915.4 749.5 916.2 752.5C917.1 755.5 921.4 770.2 922.5 775C923.6 779.8 925.4 787.7 925.5 792.5C925.6 797.3 924.1 809.3 923.8 815C923.4 820.7 922.7 834 922.5 840C922.3 846 922.1 859.8 922 865C921.9 870.2 922 880.8 922 883.8C922 886.7 922 889 922 889.8L922 910L731 910L734.3 888.9C734 888.3 732.1 885.1 731.2 883.8C730.4 882.4 728.5 879.8 727.5 877.5C726.5 875.2 723.6 868.6 722.5 865C721.4 861.4 718.7 850.3 718 847.5C717.3 844.7 716.7 842.4 716.5 841.7L690 848L690 755Z"/>
<path fill="#00b4ff" d="M901.9 889.4C902.1 888.8 903.4 884.9 903.8 883.8C904.1 882.6 904.4 882.2 905 880C905.6 877.8 907.9 869.2 908.8 865C909.6 860.8 911.6 849.8 912.5 845C913.4 840.2 916 828.9 916.2 825C916.5 821.1 915.6 816.4 915 812.5C914.4 808.6 912.1 797.6 911.2 792.5C910.4 787.4 908.2 773.3 907.5 770C906.8 766.7 905.8 767.4 905 765C904.2 762.6 902.1 754.2 901.2 750C900.4 745.8 898.4 734.2 897.5 730C896.6 725.8 894.8 718.6 893.8 715C892.7 711.4 890 704.2 888.8 700C887.5 695.8 885.1 684.2 883.8 680C882.4 675.8 879 668.6 877.5 665C876 661.4 872.8 653.1 871.2 650C869.8 646.9 866.8 640.5 865 638.8C863.2 637 858.4 634.9 856.2 635C854.1 635.1 849.3 637.9 847.5 640C845.7 642.1 842.8 649.2 841.2 652.5C839.8 655.8 836.6 663.9 835 667.5C833.4 671.1 829.3 678.9 827.5 682.5C825.7 686.1 822.1 694.5 820 697.5C817.9 700.5 812.2 704.8 810 707.5C807.8 710.2 802.8 716.4 801.2 720C799.8 723.6 798.1 733.3 797.5 737.5C796.9 741.7 796.7 749.9 796.2 755C795.8 760.1 794.4 774 793.8 780C793.1 786 792 799.8 791.2 805C790.5 810.2 787.6 819 787.5 823.8C787.4 828.5 789.1 840 790 845C790.9 850 793.6 860.8 795 865C796.4 869.2 800.2 877.8 801.2 880C802.3 882.2 803.1 882.7 803.8 883.8C804.4 884.8 806.7 888.1 807.1 888.7L804 910L904 910Z"/>
<path fill="#004eff" d="M854.6 887.5C855.2 887 858.1 885 859.5 884C860.9 883 863.8 880.2 866.2 879.2C868.7 878.3 877 877.4 880 876.2C883 875.1 889.3 871.8 891.5 869.5C893.7 867.2 896.4 861 898 857.5C899.6 854 903.8 844 905 840C906.2 836 908 827 908 823.8C908 820.5 905.7 815.6 905 812.5C904.3 809.4 903.2 801.7 902.5 797.5C901.8 793.3 899.8 782.3 898.8 777.5C897.7 772.7 895 762 893.8 757.5C892.5 753 890.1 744.2 888.8 740C887.4 735.8 884 726.4 882.5 722.5C881 718.6 877.9 710.8 876.2 707.5C874.6 704.2 870.5 697 868.8 695C867 693 863.2 690.5 861.2 690.8C859.3 691 854.8 695 852.5 697.5C850.2 700 844.9 708.5 842.5 711.2C840.1 714 834.8 717.9 832.5 720C830.2 722.1 825.2 725.8 823.8 728.8C822.2 731.8 821 741 820 745C819 749 816.5 758.6 815 762.5C813.5 766.4 808.7 773.6 807.5 777.5C806.3 781.4 805.5 791.1 805 795C804.5 798.9 804 806.4 803.8 810C803.5 813.6 802 820.8 802.5 825C803 829.2 806 840.5 807.5 845C809 849.5 813.2 858.6 815 862.5C816.8 866.4 821.1 875 822.5 877.5C823.9 880 825.4 882.4 826.2 883.8C827.1 885.1 829 888.3 829.3 888.9L826 910L860 910Z"/>
<path fill="#0000e7" d="M865 733C862.6 733 857.2 734.8 855 736.2C852.8 737.7 847.9 742.5 846.2 745C844.6 747.5 842.6 754.5 841.2 757.5C839.9 760.5 837 767.3 835 770C833 772.7 827.2 777.3 825 780C822.8 782.7 817.1 789.2 816.2 792.5C815.4 795.8 817.3 803.9 817.5 807.5C817.7 811.1 817.1 819.2 818 822.5C818.9 825.8 823 832.5 825 835C827 837.5 832.3 842.1 835 843.8C837.7 845.4 844.2 847.9 847.5 848.8C850.8 849.6 858.9 850.7 862.5 850.8C866.1 850.8 874.5 850.3 877.5 849.5C880.5 848.7 885.5 845.5 887.5 843.8C889.5 842 892.5 837.5 893.8 835C895 832.5 897.4 826.4 897.5 822.5C897.6 818.6 895.6 807 895 802.5C894.4 798 893.1 788.9 892.5 785C891.9 781.1 890.6 773.3 890 770C889.4 766.7 888.4 760.5 887.5 757.5C886.6 754.5 884 747.5 882.5 745C881 742.5 877.1 737.7 875 736.2C872.9 734.8 867.4 733 865 733Z"/>
<path fill="#000084" d="M867.5 751.2C865.7 751.2 861.5 753.6 860 755C858.5 756.4 855.8 760.1 855 762.5C854.2 764.9 854.4 772.3 853.8 775C853.1 777.7 851.5 782.9 850 785C848.5 787.1 842.6 790.1 841.2 792.5C839.9 794.9 839.4 801.4 838.8 805C838.1 808.6 835.5 819.4 836.2 822.5C837 825.6 842.8 829.6 845 831.2C847.2 832.9 852.6 835.5 855 836.2C857.4 837 862.9 837.5 865 837.5C867.1 837.5 870.7 836.9 872.5 836.2C874.3 835.6 878.4 833.7 880 832.5C881.6 831.3 885.8 828.4 886.2 826.2C886.7 824.1 884.5 817.9 883.8 815C883 812.1 881 805.4 880 802.5C879 799.6 875.3 794.2 875 791.2C874.7 788.2 876.9 781 877.5 777.5C878.1 774 880.3 765.2 880 762.5C879.7 759.8 876.5 756.4 875 755C873.5 753.6 869.3 751.2 867.5 751.2Z"/>
<path fill="#e7ff18" d="M966.1 887.2C965.5 886.8 962.9 884.9 961.2 883.8C959.6 882.6 954.8 879.5 952.5 877.5C950.2 875.5 944.6 870.2 942.5 867.5C940.4 864.8 936.2 858.9 935 855C933.8 851.1 932.6 839.8 932.5 835C932.4 830.2 933.5 820.1 933.8 815C934 809.9 935.1 797.6 935 792.5C934.9 787.4 933.2 777.6 932.5 772.5C931.8 767.4 929.5 755.1 928.8 750C928 744.9 927 733.9 926.2 730C925.5 726.1 923.5 720.5 922.5 717.5C921.5 714.5 918.5 708.3 917.5 705C916.5 701.7 914.4 694.2 913.8 690C913.1 685.8 912.8 674.8 912.5 670C912.2 665.2 911.7 654.2 911.2 650C910.8 645.8 908.6 638 908.8 635C908.9 632 911.1 627.9 912.5 625C913.9 622.1 917.6 614 920 611.2C922.4 608.5 930.5 604.8 932.5 602.5C934.5 600.2 935 595.4 936.2 592.5C937.5 589.6 940.9 582.4 942.5 578.8C944.1 575.1 948.2 566 950 562.5C951.8 559 956 552.5 957.5 550C959 547.5 961.5 543.6 962.5 542C963.5 540.4 965.3 537.5 965.7 536.9L962 520L994 520L990.7 536.8C991 537.5 992.6 540.1 993.8 542C994.9 543.9 998.5 549.1 1000 552.5C1001.5 555.9 1004.1 566.1 1006.2 570C1008.4 573.9 1014.8 581.1 1017.5 585C1020.2 588.9 1027 598.3 1028.8 602.5C1030.5 606.7 1031.6 615.5 1032.5 620C1033.4 624.5 1035.5 634.6 1036.2 640C1037 645.4 1038.2 659.6 1038.8 665C1039.3 670.4 1040.5 680.2 1041.2 685C1042 689.8 1044.2 699.6 1045 705C1045.8 710.4 1047.8 724.6 1048 730C1048.2 735.4 1047.5 745.2 1046.2 750C1045 754.8 1039.5 764.9 1037.5 770C1035.5 775.1 1030.6 787.7 1030 792.5C1029.4 797.3 1032 806.2 1032.5 810C1033 813.8 1034.8 820.5 1034.5 823.8C1034.2 827 1032 833.8 1030 837.5C1028 841.2 1019.8 851.1 1017.5 855C1015.2 858.9 1012.5 866.5 1011.2 870C1010 873.5 1007.7 881.4 1007 883.8C1006.3 886.1 1005.4 888.8 1005.2 889.5L1007 910L961 910Z"/>
<path fill="#ffb200" d="M980 585.8C977.6 585.9 972.4 588.3 970 590C967.6 591.7 963 597.6 960 600C957 602.4 948 607.3 945 610C942 612.7 937.2 619.5 935 622.5C932.8 625.5 927.6 631.7 926.2 635C924.9 638.3 924.2 646.1 923.8 650C923.3 653.9 922.4 663.3 922.5 667.5C922.6 671.7 924.1 680.5 925 685C925.9 689.5 928.8 701.1 930 705C931.2 708.9 933.8 714.5 935 717.5C936.2 720.5 939.5 726.1 940 730C940.5 733.9 938.9 747.3 938.8 750C938.6 752.7 938.3 749.8 938.8 752.5C939.2 755.2 941.6 767.7 942.5 772.5C943.4 777.3 946.2 787.7 946.2 792.5C946.2 797.3 943.1 808.6 942.5 812.5C941.9 816.4 941 822.3 941.2 825C941.5 827.7 943.4 832.9 945 835C946.6 837.1 952.3 841 955 842.5C957.7 844 964.5 846.8 967.5 847.5C970.5 848.2 977.9 848.7 980 848.8C982.1 848.8 983.2 848.5 985 848C986.8 847.5 992.3 846.3 995 845C997.7 843.7 1005 840 1007.5 837.5C1010 835 1015.5 827 1016.2 823.8C1017 820.5 1014.4 813.8 1013.8 810C1013.1 806.2 1011.1 795.8 1011.2 792.5C1011.4 789.2 1013.9 785.8 1015 782.5C1016.1 779.2 1019.5 769.5 1020.5 765C1021.5 760.5 1023.7 749.8 1023.8 745C1023.8 740.2 1021.9 729.8 1021.2 725C1020.6 720.2 1018.9 709.8 1018.8 705C1018.6 700.2 1019.5 689.8 1020 685C1020.5 680.2 1023.1 669.8 1022.5 665C1021.9 660.2 1016.6 649.8 1015 645C1013.4 640.2 1010.1 629.2 1008.8 625C1007.4 620.8 1005.1 613.3 1003.8 610C1002.4 606.7 999.1 600 997.5 597.5C995.9 595 992.1 590.2 990 588.8C987.9 587.3 982.4 585.6 980 585.8Z"/>
<path fill="#ff4d00" d="M977.5 610.8C974.8 610.8 968 612.6 965 613.8C962 614.9 955.2 618 952.5 620C949.8 622 944.8 627.3 942.5 630C940.2 632.7 935.1 639.5 933.8 642.5C932.4 645.5 931.5 652 931.2 655C931 658 930.8 663.9 931.2 667.5C931.7 671.1 934 680.5 935 685C936 689.5 938.6 700.8 940 705C941.4 709.2 944.9 717 946.2 720C947.6 723 951 726.4 951.2 730C951.5 733.6 949.2 745.8 948.8 750C948.3 754.2 947 761.4 947.5 765C948 768.6 951.5 776.7 952.5 780C953.5 783.3 956 788.9 956.2 792.5C956.5 796.1 955.5 806.4 955 810C954.5 813.6 951.9 820.1 952.5 822.5C953.1 824.9 957.9 828.6 960 830C962.1 831.4 967.9 833.9 970 834.5C972.1 835.1 975.9 835 977.5 835C979.1 835 982 835 983.8 834.5C985.5 834 990.6 832.5 992.5 831.2C994.4 830 998.9 826.3 999.5 823.8C1000.1 821.2 998 813.8 997.5 810C997 806.2 994.9 795.8 995 792.5C995.1 789.2 997.7 785.5 998.8 782.5C999.8 779.5 1002.9 771.4 1003.8 767.5C1004.6 763.6 1005.8 754.5 1006.2 750C1006.7 745.5 1007.6 734.2 1007.5 730C1007.4 725.8 1005.5 718.9 1005 715C1004.5 711.1 1003.5 701.1 1003.8 697.5C1004 693.9 1006.5 688.8 1007.5 685C1008.5 681.2 1012.1 670.1 1012 666.2C1011.9 662.4 1007.5 656 1006.2 652.5C1005 649 1002.6 640.8 1001.2 637.5C999.9 634.2 996.6 627.9 995 625C993.4 622.1 989.6 615.5 987.5 613.8C985.4 612 980.2 610.8 977.5 610.8Z"/>
<path fill="#e60000" d="M975 625C972.8 625.1 967.4 627.2 965 628.8C962.6 630.2 957.2 635 955 637.5C952.8 640 948 646.7 946.2 650C944.5 653.3 940.5 661.4 940 665C939.5 668.6 941.6 676.1 942.5 680C943.4 683.9 946.1 693.3 947.5 697.5C948.9 701.7 952.2 711.1 953.8 715C955.2 718.9 959.5 725.8 960 730C960.5 734.2 957.8 747.3 957.5 750C957.2 752.7 957.6 751 957.5 752.5C957.4 754 956.4 760.1 957 762.5C957.6 764.9 960.9 770.5 962.5 772.5C964.1 774.5 968.6 778.6 970 779.5C971.4 780.4 972.5 780.4 973.8 780C975 779.6 978.4 778 980 776.2C981.6 774.5 986 767.2 987.5 765C989 762.8 991.7 760.5 992.5 757.5C993.3 754.5 994.4 743.9 994.5 740C994.6 736.1 993.8 729.2 993.8 725C993.7 720.8 993.3 709.8 993.8 705C994.2 700.2 996.6 689.8 997.5 685C998.4 680.2 1001.4 669.2 1001.2 665C1001.1 660.8 997.6 653.6 996.2 650C994.9 646.4 991.5 637.7 990 635C988.5 632.3 985.5 628.7 983.8 627.5C982 626.3 977.2 624.9 975 625Z"/>
<path fill="#800000" d="M970 642.5C968.2 642.6 964.3 644.8 962.5 646.2C960.7 647.8 956.6 652.6 955 655C953.4 657.4 949.2 663.5 948.8 666.2C948.3 669 950.5 674.6 951.2 677.5C952 680.4 954 687 955 690C956 693 958.5 699.5 960 702.5C961.5 705.5 965.9 713 967.5 715C969.1 717 972.7 719.2 973.8 719.5C974.8 719.8 975.6 718.6 976.2 717.5C976.9 716.4 978.1 712.7 978.8 710C979.4 707.3 980.5 698.6 981.2 695C982 691.4 984.1 683.5 985 680C985.9 676.5 989 669.5 988.8 666.2C988.5 663 983.9 655 982.5 652.5C981.1 650 979 646.2 977.5 645C976 643.8 971.8 642.4 970 642.5Z"/>
</g>
<path d="M827 539.5v6.7M827 886.5v-6.7M939.1 539.5v6.7M939.1 886.5v-6.7M1051.2 539.5v6.7M1051.2 886.5v-6.7M714.9 602.5h6.7M1107.2 602.5h-6.7M714.9 666h6.7M1107.2 666h-6.7M714.9 729.5h6.7M1107.2 729.5h-6.7M714.9 792.5h6.7M1107.2 792.5h-6.7M714.9 855.8h6.7M1107.2 855.8h-6.7" stroke="#262626" stroke-width="4.8" fill="none"/>
<rect x="714.9" y="539.5" width="392.3" height="347" fill="none" stroke="#262626" stroke-width="5.1"/>
</g>
<text transform="translate(669.295 929.936) scale(1 1.026)" font-size="32.076" font-weight="bold" fill="#262626">3200</text>
<text transform="translate(781.385 929.936) scale(1 1.026)" font-size="32.076" font-weight="bold" fill="#262626">3400</text>
<text transform="translate(893.465 929.936) scale(1 1.026)" font-size="32.076" font-weight="bold" fill="#262626">3600</text>
<text transform="translate(1005.555 929.936) scale(1 1.026)" font-size="32.076" font-weight="bold" fill="#262626">3800</text>
<text transform="translate(612.445 551.786) scale(1 1.026)" font-size="32.076" font-weight="bold" fill="#262626">3900</text>
<text transform="translate(612.445 614.986) scale(1 1.026)" font-size="32.076" font-weight="bold" fill="#262626">3800</text>
<text transform="translate(612.445 678.486) scale(1 1.026)" font-size="32.076" font-weight="bold" fill="#262626">3700</text>
<text transform="translate(612.445 741.986) scale(1 1.026)" font-size="32.076" font-weight="bold" fill="#262626">3600</text>
<text transform="translate(612.445 804.986) scale(1 1.026)" font-size="32.076" font-weight="bold" fill="#262626">3500</text>
<text transform="translate(612.445 868.236) scale(1 1.026)" font-size="32.076" font-weight="bold" fill="#262626">3400</text>
<text transform="translate(816.55 511.75) scale(1 1.037)" font-size="33.6" font-weight="bold" fill="#000">T</text>
<text transform="translate(841.703 528.45) scale(1 1.032)" font-size="27.113" font-weight="bold" fill="#000">w</text>
<text transform="translate(881.072 511.495) scale(1 0.965)" font-size="34.966" font-weight="bold" fill="#000">=</text>
<text transform="translate(921.621 512.05) scale(1 0.974)" font-size="35.576" font-weight="bold" fill="#000">2</text>
<text transform="translate(959.162 511.626) scale(1 0.96)" font-size="34.411" font-weight="bold" fill="#000">ps</text>
<text transform="translate(777.524 967.786) scale(1 0.961)" font-size="30.907" font-weight="normal" font-style="italic" fill="#262626">ω</text>
<text transform="translate(802.3 983.806) scale(1 1.014)" font-size="28.164" font-weight="bold" fill="#262626">probe</text>
<text transform="translate(921.125 967.3) scale(1 1.111)" font-size="31.68" font-weight="bold" fill="#262626">(</text>
<text transform="translate(938.226 966.512) scale(1 1.001)" font-size="34.373" font-weight="bold" fill="#262626">cm</text>
<text transform="translate(995.614 948.92) scale(1 0.91)" font-size="27.429" font-weight="bold" fill="#262626">-</text>
<text transform="translate(1006.912 950.25) scale(1 0.969)" font-size="28.235" font-weight="bold" fill="#262626">1</text>
<text transform="translate(1028.195 967.3) scale(1 1.056)" font-size="33.347" font-weight="bold" fill="#262626">)</text>
<g>
<clipPath id="c6"><rect x="1254.2" y="539.5" width="392.7" height="347"/></clipPath>
<rect x="1254.2" y="539.5" width="392.7" height="347" fill="#83ff7c"/>
<g clip-path="url(#c6)" stroke="#000" stroke-width="1.2" stroke-linejoin="round">
<path fill="#1cffe3" d="M1276 761.2C1276.2 760 1279.9 757.1 1281.5 756.2C1283.1 755.4 1287.3 754.1 1289 754.2C1290.7 754.4 1294 756.7 1295.2 757.5C1296.5 758.3 1299.8 760.2 1299.8 761.2C1299.8 762.3 1296.7 765.3 1295.2 766.2C1293.8 767.2 1289.5 769.2 1287.8 769.2C1286 769.2 1281.7 767.2 1280.2 766.2C1278.8 765.3 1275.8 762.5 1276 761.2Z"/>
<path fill="#1cffe3" d="M1449.3 889.7C1449.3 889 1449.4 887.3 1449.5 883.8C1449.6 880.2 1450 865.9 1450.2 860C1450.5 854.1 1451.2 841 1451.5 835C1451.8 829 1452.5 816 1452.8 810C1453 804 1453.3 790.7 1453.5 785C1453.7 779.3 1454.4 767.6 1454.5 762.5C1454.6 757.4 1454.4 747 1454 742.5C1453.6 738 1452.4 728.9 1451.5 725C1450.6 721.1 1447.7 713.6 1446.5 710C1445.3 706.4 1442.4 699.2 1441.5 695C1440.6 690.8 1439.4 679.8 1439 675C1438.6 670.2 1438.7 659.5 1438.5 655C1438.3 650.5 1438.3 640.8 1437.8 637.5C1437.2 634.2 1435.3 629.6 1434 627.5C1432.7 625.4 1428.9 621.8 1426.5 620C1424.1 618.2 1417 614.3 1414 612.5C1411 610.7 1403.8 607.1 1401.5 605C1399.2 602.9 1396.9 596.6 1395.2 595C1393.6 593.4 1390 591.4 1387.8 591.2C1385.5 591.1 1379.3 592.5 1376.5 593.8C1373.7 595 1367 599.5 1364 601.2C1361 603 1354.5 606.8 1351.5 608.8C1348.5 610.7 1341.7 615.2 1339 617.5C1336.3 619.8 1330.7 625.4 1329 627.5C1327.3 629.6 1325.5 632.3 1325.2 635C1325 637.7 1326.2 646.4 1326.5 650C1326.8 653.6 1328 661.4 1327.8 665C1327.5 668.6 1324.8 676.1 1324 680C1323.2 683.9 1321.5 693.3 1321.5 697.5C1321.5 701.7 1323.5 711.1 1324 715C1324.5 718.9 1325.8 725.8 1325.2 730C1324.7 734.2 1320.2 746.1 1319 750C1317.8 753.9 1316 759.8 1315.2 762.5C1314.5 765.2 1313.7 768.6 1312.8 772.5C1311.8 776.4 1308.8 790.2 1307.8 795C1306.7 799.8 1304.8 809.2 1304 812.5C1303.2 815.8 1301 819.8 1301.5 822.5C1302 825.2 1306.2 831.7 1307.8 835C1309.2 838.3 1312.5 846.4 1314 850C1315.5 853.6 1319 862 1320.2 865C1321.5 868 1323.1 872.8 1324 875C1324.9 877.2 1327 882 1327.8 883.8C1328.5 885.5 1329.8 888.6 1330.1 889.3L1328 910L1449 910Z"/>
<path fill="#00b4ff" d="M1429.6 889.4C1429.8 888.8 1431.1 884.9 1431.5 883.8C1431.9 882.6 1432.2 882.2 1432.8 880C1433.3 877.8 1435.8 869.2 1436.5 865C1437.2 860.8 1438.5 849.8 1439 845C1439.5 840.2 1440 829.8 1440.2 825C1440.5 820.2 1441 809.8 1441.5 805C1442 800.2 1444 790.1 1444.5 785C1445 779.9 1445.5 767.3 1445.2 762.5C1445 757.7 1443.5 748.9 1442.8 745C1442 741.1 1440.2 733.6 1439 730C1437.8 726.4 1434.4 718.6 1432.8 715C1431.1 711.4 1426.6 703.6 1425.2 700C1423.9 696.4 1422.4 688.9 1421.5 685C1420.6 681.1 1418.8 671.1 1417.8 667.5C1416.7 663.9 1414.5 656.9 1412.8 655C1411 653.1 1405.3 651.8 1402.8 651.8C1400.2 651.8 1394 653.4 1391.5 655C1389 656.6 1383.9 662.3 1381.5 665C1379.1 667.7 1373.9 674.8 1371.5 677.5C1369.1 680.2 1364 685.1 1361.5 687.5C1359 689.9 1351.6 694.2 1350.2 697.5C1348.9 700.8 1350.4 711.4 1350.2 715C1350.1 718.6 1349.9 724.2 1349 727.5C1348.1 730.8 1344.1 738.9 1342.8 742.5C1341.4 746.1 1338.5 755.4 1337.8 757.5C1337 759.6 1337 756.7 1336.5 760C1336 763.3 1334.6 779.6 1334 785C1333.4 790.4 1331.9 800.5 1331.5 805C1331.1 809.5 1330.5 818.6 1331 822.5C1331.5 826.4 1334 833.9 1335.2 837.5C1336.5 841.1 1339.5 848.9 1341.5 852.5C1343.5 856.1 1349.4 864.5 1351.5 867.5C1353.6 870.5 1357.5 875.5 1359 877.5C1360.5 879.5 1363 882.4 1364 883.8C1365 885.1 1367.3 887.9 1367.7 888.4L1364 910L1431 910Z"/>
<path fill="#004eff" d="M1401.1 886.4C1401.8 886.1 1405 884.5 1406.5 883.8C1408 883 1412.2 881.4 1414 880C1415.8 878.6 1419.7 875.2 1421.5 872.5C1423.3 869.8 1427.5 861.4 1429 857.5C1430.5 853.6 1433.1 844.2 1434 840C1434.9 835.8 1436.3 826.7 1436.5 822.5C1436.7 818.3 1436 809.5 1436 805C1436 800.5 1436.4 790.4 1436.5 785C1436.6 779.6 1437 764.8 1436.5 760C1436 755.2 1434 748 1432.8 745C1431.5 742 1428.2 737.2 1426.5 735C1424.8 732.8 1421.1 728 1419 726.2C1416.9 724.5 1411.7 721.1 1409 720C1406.3 718.9 1399.5 716.9 1396.5 717C1393.5 717.1 1387 719.4 1384 721.2C1381 723.1 1374.5 729.6 1371.5 732.5C1368.5 735.4 1361.5 742.3 1359 745C1356.5 747.7 1351.7 752.3 1350.2 755C1348.8 757.7 1347.4 763 1347 767.5C1346.6 772 1347.2 785.9 1347 792.5C1346.8 799.1 1344.7 816.8 1345.2 822.5C1345.8 828.2 1349.5 835.8 1351.5 840C1353.5 844.2 1359.1 853.9 1361.5 857.5C1363.9 861.1 1369.1 867.3 1371.5 870C1373.9 872.7 1379.7 878.4 1381.5 880C1383.3 881.6 1385.3 882.9 1386.5 883.8C1387.7 884.6 1390.7 886.9 1391.3 887.4L1386 910L1406 910Z"/>
<path fill="#0000e7" d="M1411.5 750.5C1409.2 750.6 1403.6 752.3 1401.5 753.8C1399.4 755.2 1396.1 760.7 1394 762.5C1391.9 764.3 1386.7 767.4 1384 768.8C1381.3 770.1 1373.8 772.1 1371.5 773.8C1369.2 775.4 1366.3 780 1365.2 782.5C1364.2 785 1363.2 791.7 1362.8 795C1362.3 798.3 1361.7 806.7 1361.5 810C1361.3 813.3 1360.1 819.2 1361 822.5C1361.9 825.8 1366.8 833.9 1369 837.5C1371.2 841.1 1376.6 849.6 1379 852.5C1381.4 855.4 1386.6 859.7 1389 861.2C1391.4 862.8 1397.2 865 1399 865.5C1400.8 866 1402.5 865.5 1404 865C1405.5 864.5 1409.7 862.8 1411.5 861.2C1413.3 859.8 1417.3 855.4 1419 852.5C1420.7 849.6 1424 841.1 1425.2 837.5C1426.5 833.9 1428.7 825.8 1429 822.5C1429.3 819.2 1428.2 813.3 1427.8 810C1427.3 806.7 1425.5 798.9 1425.2 795C1425 791.1 1425.9 781.7 1426 777.5C1426.1 773.3 1426.7 763 1426 760C1425.3 757 1422 753.6 1420.2 752.5C1418.5 751.4 1413.8 750.4 1411.5 750.5Z"/>
<path fill="#000084" d="M1401.5 794.2C1399.5 794.2 1395.7 796.2 1394 797.5C1392.3 798.8 1389 802.9 1387.8 805C1386.5 807.1 1384.3 812.9 1383.5 815C1382.7 817.1 1380.6 820.4 1381 822.5C1381.4 824.6 1384.9 830.2 1386.5 832.5C1388.1 834.8 1392.2 839.7 1394 841.2C1395.8 842.8 1400.2 845 1401.5 845.5C1402.8 846 1404.2 845.5 1405.2 845C1406.3 844.5 1408.9 842.8 1410.2 841.2C1411.6 839.8 1415.2 834.8 1416.5 832.5C1417.8 830.2 1420.7 824.6 1421 822.5C1421.3 820.4 1419.7 817.1 1419 815C1418.3 812.9 1416.3 807.1 1415.2 805C1414.2 802.9 1411.9 798.8 1410.2 797.5C1408.6 796.2 1403.5 794.2 1401.5 794.2Z"/>
<path fill="#e7ff18" d="M1466.2 889.7C1466.2 889 1466.1 886.7 1466 883.8C1465.9 880.8 1465.4 870.2 1465.2 865C1465.1 859.8 1464.9 846 1464.8 840C1464.6 834 1464.2 820.7 1464 815C1463.8 809.3 1462.9 797.9 1462.8 792.5C1462.6 787.1 1462.6 775.1 1462.8 770C1462.9 764.9 1463.7 754.8 1464 750C1464.3 745.2 1465.4 734.2 1465.2 730C1465.1 725.8 1463.7 718.6 1462.8 715C1461.8 711.4 1458.8 703.9 1457.8 700C1456.7 696.1 1454.7 686.5 1454 682.5C1453.3 678.5 1452.1 670.1 1452 666.2C1451.9 662.4 1453.1 654.4 1453.5 650C1453.9 645.6 1454.7 634.5 1455.2 630C1455.8 625.5 1456.8 616.4 1457.8 612.5C1458.7 608.6 1461.1 600.8 1462.8 597.5C1464.4 594.2 1469.5 588.1 1471.5 585C1473.5 581.9 1478.5 574.9 1479.5 571.2C1480.5 567.6 1480 558.5 1480.2 555C1480.5 551.5 1481.3 544.3 1481.5 542C1481.7 539.7 1482 536.7 1482.1 536L1481 520L1540 520L1537.7 536.6C1538 537.2 1539.3 540.1 1540.2 542C1541.2 543.9 1544 549.4 1545.2 552.5C1546.5 555.6 1549 563.6 1550.2 567.5C1551.5 571.4 1554 580.8 1555.2 585C1556.5 589.2 1558.6 598.6 1560.2 602.5C1561.9 606.4 1566.9 613.9 1569 617.5C1571.1 621.1 1575.8 628.9 1577.8 632.5C1579.7 636.1 1583.9 644.5 1585.2 647.5C1586.6 650.5 1588.2 655.2 1589 657.5C1589.8 659.8 1592.2 663.2 1592 666.2C1591.8 669.2 1588.7 678.8 1587.8 682.5C1586.8 686.2 1584.3 694.2 1584.5 697.5C1584.7 700.8 1587.9 707 1589 710C1590.1 713 1593 720.2 1594 722.5C1595 724.8 1598 727.4 1597.8 729.5C1597.5 731.6 1592.7 736.6 1591.5 740C1590.3 743.4 1588.2 755.1 1587.8 757.5C1587.3 759.9 1587.6 757.6 1587.8 760C1587.9 762.4 1588.5 773.6 1589 777.5C1589.5 781.4 1591.1 788.6 1591.5 792.5C1591.9 796.4 1591.8 806.2 1592 810C1592.2 813.8 1593.7 820.1 1593.5 823.8C1593.3 827.4 1590.8 836.2 1590.2 840C1589.7 843.8 1589.6 851.4 1589 855C1588.4 858.6 1586.5 867.3 1585.2 870C1584 872.7 1580.7 875.9 1579 877.5C1577.3 879.1 1573 882.5 1571.5 883.8C1570 885 1567.4 887.1 1566.9 887.6L1571 910L1466 910Z"/>
<path fill="#ffb200" d="M1507.8 596.8C1505.8 597 1501.5 601.1 1499 602.5C1496.5 603.9 1489.2 606.6 1486.5 608.8C1483.8 610.9 1478.6 616.9 1476.5 620C1474.4 623.1 1470.3 631.1 1469 635C1467.7 638.9 1465.8 648.8 1465.2 652.5C1464.7 656.2 1463.8 662.6 1464 666.2C1464.2 669.9 1465.8 678.5 1466.5 682.5C1467.2 686.5 1469.5 696.1 1470.2 700C1471 703.9 1472.2 711.1 1472.8 715C1473.3 718.9 1475.1 728.3 1475.2 732.5C1475.4 736.7 1474.2 747 1474 750C1473.8 753 1473.9 753.9 1474 757.5C1474.1 761.1 1474.3 774.6 1474.5 780C1474.7 785.4 1475 797.4 1475.2 802.5C1475.5 807.6 1475.8 818 1476.5 822.5C1477.2 827 1480.5 836.1 1481.5 840C1482.5 843.9 1484.2 851.7 1485.2 855C1486.3 858.3 1488.6 864.8 1490.2 867.5C1491.9 870.2 1496.8 875.9 1499 877.5C1501.2 879.1 1506.6 881 1509 881.2C1511.4 881.5 1516.6 880.6 1519 880C1521.4 879.4 1526.6 877.8 1529 876.2C1531.4 874.8 1536.8 869.8 1539 867.5C1541.2 865.2 1545.7 860.5 1547.8 857.5C1549.8 854.5 1554.8 846.4 1556.5 842.5C1558.2 838.6 1560.6 829.5 1561.5 825C1562.4 820.5 1563.4 809.8 1564 805C1564.6 800.2 1565.9 789.8 1566.5 785C1567.1 780.2 1568.7 768 1569 765C1569.3 762 1569.2 763 1569 760C1568.8 757 1568.3 744.5 1567.8 740C1567.2 735.5 1565 726.7 1564 722.5C1563 718.3 1559.9 709.5 1559 705C1558.1 700.5 1556.7 689.8 1556.5 685C1556.3 680.2 1558.3 669.2 1557.8 665C1557.2 660.8 1553 653.6 1551.5 650C1550 646.4 1546.9 638.3 1545.2 635C1543.6 631.7 1539.7 625.4 1537.8 622.5C1535.8 619.6 1531 613.4 1529 611.2C1527 609.1 1523.2 606.4 1521.5 605C1519.8 603.6 1516.9 601 1515.2 600C1513.6 599 1509.7 596.5 1507.8 596.8Z"/>
<path fill="#ff4d00" d="M1509 617.5C1506.6 617.5 1501.4 618.8 1499 620C1496.6 621.2 1491.1 625.4 1489 627.5C1486.9 629.6 1483 634.5 1481.5 637.5C1480 640.5 1477.4 649 1476.5 652.5C1475.6 656 1474 662.6 1474 666.2C1474 669.9 1475.9 678.5 1476.5 682.5C1477.1 686.5 1478.4 696.1 1479 700C1479.6 703.9 1480.9 711.1 1481.5 715C1482.1 718.9 1483.8 728.3 1484 732.5C1484.2 736.7 1482.9 747.3 1482.8 750C1482.6 752.7 1482.5 752 1482.8 755C1483 758 1484.8 770.5 1485.2 775C1485.7 779.5 1486.3 788.3 1486.5 792.5C1486.7 796.7 1486.3 806.1 1486.5 810C1486.7 813.9 1486.8 821.7 1487.8 825C1488.7 828.3 1492.3 835.1 1494 837.5C1495.7 839.9 1499.4 843.6 1501.5 845C1503.6 846.4 1509.4 848.9 1511.5 849.5C1513.6 850.1 1517.2 850.1 1519 850C1520.8 849.9 1524.7 849.4 1526.5 848.8C1528.3 848.1 1531.9 846.4 1534 845C1536.1 843.6 1542 839.9 1544 837.5C1546 835.1 1549.3 827.7 1550.2 825C1551.2 822.3 1551.2 818.3 1551.5 815C1551.8 811.7 1552.3 801.7 1552.8 797.5C1553.2 793.3 1554.7 784.5 1555.2 780C1555.8 775.5 1557.5 763.6 1557.8 760C1558 756.4 1557.3 753.3 1557 750C1556.7 746.7 1555.8 736.7 1555.2 732.5C1554.7 728.3 1553.5 718.9 1552.8 715C1552 711.1 1549.9 703.6 1549 700C1548.1 696.4 1545.5 689.2 1545.2 685C1545 680.8 1547 669.2 1546.5 665C1546 660.8 1542.7 653.3 1541.5 650C1540.3 646.7 1538 640.2 1536.5 637.5C1535 634.8 1531.1 629.6 1529 627.5C1526.9 625.4 1521.4 621.2 1519 620C1516.6 618.8 1511.4 617.5 1509 617.5Z"/>
<path fill="#e60000" d="M1509 634.2C1506.6 634.4 1501.2 637.2 1499 638.8C1496.8 640.3 1491.9 645.2 1490.2 647.5C1488.6 649.8 1486.1 655.2 1485.2 657.5C1484.4 659.8 1483.5 663.5 1483.5 666.2C1483.5 669 1484.7 676.2 1485.2 680C1485.8 683.8 1487.2 693.3 1487.8 697.5C1488.3 701.7 1489.7 710.8 1490.2 715C1490.8 719.2 1492.6 728.3 1492.8 732.5C1492.9 736.7 1491.7 747.6 1491.5 750C1491.3 752.4 1491.3 749.8 1491.5 752.5C1491.7 755.2 1491.8 768.6 1492.8 772.5C1493.7 776.4 1498 782.6 1499 785C1500 787.4 1500.7 789.8 1501 792.5C1501.3 795.2 1501.4 803.9 1501.5 807.5C1501.6 811.1 1500.6 819.8 1501.5 822.5C1502.4 825.2 1507.2 828.7 1509 830C1510.8 831.3 1514.7 832.7 1516.5 833C1518.3 833.3 1522.2 832.9 1524 832.5C1525.8 832.1 1529.8 831 1531.5 830C1533.2 829 1536.8 826.1 1537.8 823.8C1538.7 821.4 1538.7 813.8 1539 810C1539.3 806.2 1539.8 796.1 1540.2 792.5C1540.7 788.9 1542.2 783.9 1542.8 780C1543.3 776.1 1545 763.6 1545.2 760C1545.5 756.4 1545.3 753.3 1545.2 750C1545.2 746.7 1545 737.3 1544.5 732.5C1544 727.7 1542.3 714.5 1541.5 710C1540.7 705.5 1538.7 698.6 1537.8 695C1536.8 691.4 1534.3 683.5 1534 680C1533.7 676.5 1535.5 669.2 1535.2 666.2C1535 663.2 1532.5 657.5 1531.5 655C1530.5 652.5 1528 647.1 1526.5 645C1525 642.9 1521.1 638.8 1519 637.5C1516.9 636.2 1511.4 634.1 1509 634.2Z"/>
<path fill="#800000" d="M1507.8 650C1505.8 650.1 1500.8 653.5 1499 655C1497.2 656.5 1493.7 661 1492.8 662.5C1491.8 664 1491.2 665.4 1491.5 667.5C1491.8 669.6 1494.3 677.3 1495.2 680C1496.2 682.7 1498.1 687.6 1499 690C1499.9 692.4 1502.5 697 1502.8 700C1503 703 1501.8 711.1 1501.5 715C1501.2 718.9 1500.4 727.7 1500.2 732.5C1500.1 737.3 1500.2 751.7 1500.2 755C1500.3 758.3 1500.2 757.9 1501 760C1501.8 762.1 1504.9 770 1506.5 772.5C1508.1 775 1512.2 779.5 1514 781.2C1515.8 783 1520.5 786.8 1521.5 787.5C1522.5 788.2 1522.3 787.6 1522.8 787C1523.2 786.4 1524.7 784.5 1525.2 782.5C1525.8 780.5 1527.2 773.9 1527.8 770C1528.3 766.1 1529.9 754.5 1530.2 750C1530.6 745.5 1531.5 735.8 1531 732.5C1530.5 729.2 1527.6 725.2 1526.5 722.5C1525.4 719.8 1522.5 713 1521.5 710C1520.5 707 1517.8 700.8 1517.8 697.5C1517.8 694.2 1520.8 686.1 1521.5 682.5C1522.2 678.9 1524 670 1524 667.5C1524 665 1522.5 662.9 1521.5 661.2C1520.5 659.6 1516.9 655.1 1515.2 653.8C1513.6 652.4 1509.7 649.9 1507.8 650Z"/>
</g>
<path d="M1366.4 539.5v6.7M1366.4 886.5v-6.7M1478.6 539.5v6.7M1478.6 886.5v-6.7M1590.8 539.5v6.7M1590.8 886.5v-6.7M1254.2 602.5h6.7M1646.9 602.5h-6.7M1254.2 666h6.7M1646.9 666h-6.7M1254.2 729.5h6.7M1646.9 729.5h-6.7M1254.2 792.5h6.7M1646.9 792.5h-6.7M1254.2 855.8h6.7M1646.9 855.8h-6.7" stroke="#262626" stroke-width="4.8" fill="none"/>
<rect x="1254.2" y="539.5" width="392.7" height="347" fill="none" stroke="#262626" stroke-width="5.1"/>
</g>
<text transform="translate(1208.595 929.936) scale(1 1.026)" font-size="32.076" font-weight="bold" fill="#262626">3200</text>
<text transform="translate(1320.795 929.936) scale(1 1.026)" font-size="32.076" font-weight="bold" fill="#262626">3400</text>
<text transform="translate(1432.995 929.936) scale(1 1.026)" font-size="32.076" font-weight="bold" fill="#262626">3600</text>
<text transform="translate(1545.195 929.936) scale(1 1.026)" font-size="32.076" font-weight="bold" fill="#262626">3800</text>
<text transform="translate(1151.745 551.786) scale(1 1.026)" font-size="32.076" font-weight="bold" fill="#262626">3900</text>
<text transform="translate(1151.745 614.986) scale(1 1.026)" font-size="32.076" font-weight="bold" fill="#262626">3800</text>
<text transform="translate(1151.745 678.486) scale(1 1.026)" font-size="32.076" font-weight="bold" fill="#262626">3700</text>
<text transform="translate(1151.745 741.986) scale(1 1.026)" font-size="32.076" font-weight="bold" fill="#262626">3600</text>
<text transform="translate(1151.745 804.986) scale(1 1.026)" font-size="32.076" font-weight="bold" fill="#262626">3500</text>
<text transform="translate(1151.745 868.236) scale(1 1.026)" font-size="32.076" font-weight="bold" fill="#262626">3400</text>
<text transform="translate(1355.75 511.75) scale(1 1.037)" font-size="33.6" font-weight="bold" fill="#000">T</text>
<text transform="translate(1380.903 528.45) scale(1 1.032)" font-size="27.113" font-weight="bold" fill="#000">w</text>
<text transform="translate(1420.272 511.495) scale(1 0.965)" font-size="34.966" font-weight="bold" fill="#000">=</text>
<text transform="translate(1461.885 512.05) scale(1 1.039)" font-size="34.08" font-weight="bold" fill="#000">4</text>
<text transform="translate(1498.362 511.626) scale(1 0.96)" font-size="34.411" font-weight="bold" fill="#000">ps</text>
<text transform="translate(1316.774 967.786) scale(1 0.961)" font-size="30.907" font-weight="normal" font-style="italic" fill="#262626">ω</text>
<text transform="translate(1341.55 983.806) scale(1 1.014)" font-size="28.164" font-weight="bold" fill="#262626">probe</text>
<text transform="translate(1460.375 967.3) scale(1 1.111)" font-size="31.68" font-weight="bold" fill="#262626">(</text>
<text transform="translate(1477.476 966.512) scale(1 1.001)" font-size="34.373" font-weight="bold" fill="#262626">cm</text>
<text transform="translate(1534.864 948.92) scale(1 0.91)" font-size="27.429" font-weight="bold" fill="#262626">-</text>
<text transform="translate(1546.162 950.25) scale(1 0.969)" font-size="28.235" font-weight="bold" fill="#262626">1</text>
<text transform="translate(1567.445 967.3) scale(1 1.056)" font-size="33.347" font-weight="bold" fill="#262626">)</text>
<rect x="0" y="347" width="1652" height="1" fill="#fff" opacity="0.22"/>
</g>
</svg></body></html>
